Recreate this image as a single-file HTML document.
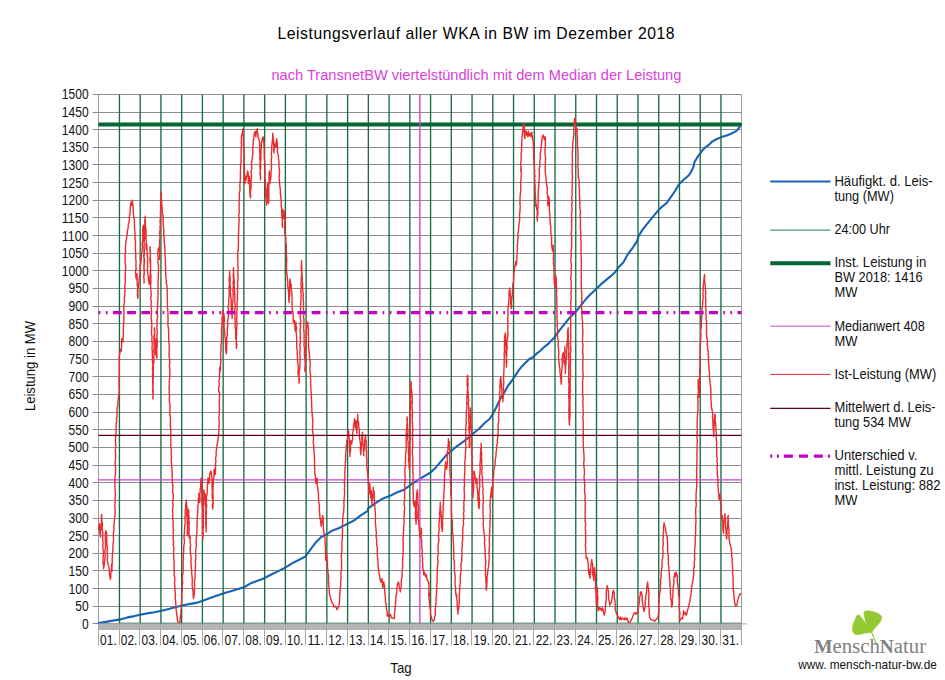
<!DOCTYPE html>
<html><head><meta charset="utf-8"><title>Leistungsverlauf aller WKA in BW im Dezember 2018</title>
<style>html,body{margin:0;padding:0;background:#fff;}svg{display:block;}</style></head>
<body>
<svg width="945" height="680" viewBox="0 0 945 680">
<rect x="0" y="0" width="945" height="680" fill="#ffffff"/>
<text x="476" y="38.6" text-anchor="middle" font-family="Liberation Sans, sans-serif" font-size="15.7" fill="#000" textLength="397" lengthAdjust="spacing">Leistungsverlauf aller WKA in BW im Dezember 2018</text>
<text x="476.4" y="79.9" text-anchor="middle" font-family="Liberation Sans, sans-serif" font-size="15.1" fill="#d93fd9" textLength="410" lengthAdjust="spacingAndGlyphs">nach TransnetBW viertelstündlich mit dem Median der Leistung</text>
<path d="M92.5 623.50H741.4 M92.5 606.50H741.4 M92.5 588.50H741.4 M92.5 570.50H741.4 M92.5 553.50H741.4 M92.5 535.50H741.4 M92.5 518.50H741.4 M92.5 500.50H741.4 M92.5 482.50H741.4 M92.5 465.50H741.4 M92.5 447.50H741.4 M92.5 429.50H741.4 M92.5 412.50H741.4 M92.5 394.50H741.4 M92.5 376.50H741.4 M92.5 359.50H741.4 M92.5 341.50H741.4 M92.5 323.50H741.4 M92.5 306.50H741.4 M92.5 288.50H741.4 M92.5 270.50H741.4 M92.5 253.50H741.4 M92.5 235.50H741.4 M92.5 217.50H741.4 M92.5 200.50H741.4 M92.5 182.50H741.4 M92.5 164.50H741.4 M92.5 147.50H741.4 M92.5 129.50H741.4 M92.5 112.50H741.4 M92.5 94.50H741.4" stroke="#8c8c8c" stroke-width="1" fill="none"/>
<path d="M98.5 94.4V629.9 M741.5 94.4V629.9" stroke="#9c9c9c" stroke-width="1" fill="none"/>
<polyline id="blue" points="98.6,623.0 105.8,621.9 113.0,620.6 120.2,619.4 127.4,617.4 134.6,616.1 140.0,614.7 147.2,613.4 154.4,612.2 161.6,610.7 168.8,608.9 176.0,607.1 183.1,605.3 190.3,603.9 197.5,602.6 202.9,600.8 210.1,598.1 217.3,595.4 224.5,593.1 231.7,591.0 238.9,588.8 244.3,587.0 251.5,582.9 256.9,581.1 265.0,578.0 265.4,577.5 270.8,574.8 276.2,572.1 285.2,567.6 292.4,563.1 299.6,559.5 305.0,556.8 310.4,549.6 315.8,542.4 321.2,537.0 326.6,534.3 332.0,530.7 339.2,528.0 346.3,524.4 353.5,520.8 360.7,515.4 367.9,510.9 367.9,508.7 375.1,503.3 382.3,498.8 389.5,496.1 396.7,492.5 403.9,489.8 411.1,484.4 418.3,479.9 425.5,475.4 430.4,472.8 435.8,467.4 441.2,461.1 446.6,454.8 452.0,450.3 457.4,445.8 462.8,442.2 468.2,437.7 473.6,433.2 479.0,428.7 484.4,423.3 489.8,418.8 493.4,413.0 497.0,405.8 500.6,398.1 504.2,392.7 507.8,386.0 511.3,381.5 514.9,376.1 518.5,370.7 522.1,366.2 525.7,362.6 529.3,359.0 532.9,357.2 536.5,353.7 540.1,351.0 543.7,347.4 547.3,344.7 550.9,341.1 554.5,337.5 558.1,332.1 561.7,327.6 565.3,323.1 568.9,318.6 572.5,315.0 576.1,311.4 579.7,306.9 583.3,302.4 586.9,297.9 590.5,294.3 595.4,289.8 600.8,284.4 606.2,279.9 611.6,275.4 615.2,272.0 618.8,266.9 623.3,262.4 627.8,254.3 633.2,247.1 636.8,241.7 638.6,236.3 642.2,230.1 645.8,225.6 649.4,221.1 653.9,215.7 658.4,210.3 662.0,206.7 666.5,203.1 671.0,196.8 675.4,190.5 679.0,184.2 683.5,179.7 688.9,175.2 690.7,172.5 693.4,167.1 694.3,162.6 697.9,156.3 701.5,151.8 701.5,151.2 705.1,147.6 708.7,144.9 711.4,142.2 715.9,139.5 721.3,137.1 726.7,135.5 732.1,133.2 735.7,131.4 738.4,128.7 740.2,126.0 740.8,124.2" fill="none" stroke="#1862b8" stroke-width="2.1" stroke-linejoin="round" stroke-linecap="round"/>
<path d="M119.44 623.9V94.4 M140.18 623.9V94.4 M160.93 623.9V94.4 M181.67 623.9V94.4 M202.41 623.9V94.4 M223.15 623.9V94.4 M243.89 623.9V94.4 M264.64 623.9V94.4 M285.38 623.9V94.4 M306.12 623.9V94.4 M326.86 623.9V94.4 M347.60 623.9V94.4 M368.35 623.9V94.4 M389.09 623.9V94.4 M409.83 623.9V94.4 M430.57 623.9V94.4 M451.31 623.9V94.4 M472.05 623.9V94.4 M492.80 623.9V94.4 M513.54 623.9V94.4 M534.28 623.9V94.4 M555.02 623.9V94.4 M575.76 623.9V94.4 M596.51 623.9V94.4 M617.25 623.9V94.4 M637.99 623.9V94.4 M658.73 623.9V94.4 M679.47 623.9V94.4 M700.22 623.9V94.4 M720.96 623.9V94.4 " stroke="#176e45" stroke-width="1.35" fill="none"/>
<path d="M119.14 623.1H741.4" stroke="#1e7d55" stroke-width="0.8" fill="none"/>
<path d="M741.4 623.9H746.9" stroke="#a8a8a8" stroke-width="1" fill="none"/>
<path d="M98.4 124.45H739.9" stroke="#006633" stroke-width="3.9" fill="none"/>
<circle cx="739.9" cy="124.45" r="1.95" fill="#006633"/>
<path d="M98.4 479.88H741.4 M419.90 623.9V94.4" stroke="#d044d8" stroke-width="1.4" fill="none"/>
<polyline id="red" points="98.6,529.8 98.78,527.21 99.31,525.0 99.5,523.5 99.71,526.01 99.55,528.91 99.72,531.51 99.92,533.73 100.4,537.0 100.51,534.65 100.46,530.99 100.98,529.19 101.1,525.61 101.55,522.3 101.63,519.83 101.29,516.78 101.7,514.5 101.72,517.79 101.78,520.31 102.25,522.87 102.33,525.29 102.14,528.34 102.6,531.6 102.8,534.34 102.61,537.4 102.77,539.84 103.08,543.23 102.77,545.9 103.03,549.16 103.25,551.17 103.49,553.77 103.17,557.51 103.05,559.97 103.04,563.06 103.62,565.76 103.5,568.5 104.11,565.76 104.34,563.68 104.61,561.01 104.9,558.6 105.23,556.43 105.06,553.25 104.86,550.51 105.36,548.13 105.58,544.35 105.36,542.1 105.2,539.02 105.39,535.74 105.4,533.87 105.8,530.7 106.7,533.4 106.53,535.93 106.8,539.68 106.68,541.97 107.09,545.46 107.37,548.31 107.08,550.56 107.23,554.1 107.74,555.95 107.28,558.94 107.6,562.2 108.11,564.88 109.0,567.6 109.39,570.19 109.3,573.34 109.88,576.47 110.3,579.3 110.83,577.02 110.74,574.36 111.07,571.03 111.45,569.49 111.65,566.97 111.6,564.0 111.69,566.26 111.66,568.99 112.1,571.2 111.89,567.79 112.1,565.13 112.29,562.17 112.15,559.51 112.32,557.01 112.37,554.92 112.88,551.11 112.73,548.59 113.0,546.0 113.06,542.67 113.56,541.09 113.44,537.58 113.33,534.24 113.67,531.67 114.16,528.73 113.76,527.03 114.26,523.11 114.4,520.8 114.61,517.44 114.77,516.07 115.18,512.97 115.1,510.0 114.93,507.08 114.87,504.91 115.12,502.18 114.98,498.67 115.32,497.0 115.35,494.01 115.32,491.18 114.91,488.13 115.0,484.71 114.77,482.33 115.1,479.9 114.97,477.18 115.5,473.84 115.53,471.6 115.58,467.74 115.1,464.55 115.13,461.53 115.47,459.51 115.66,455.92 115.57,453.38 115.21,450.19 115.83,447.37 115.76,443.95 115.39,441.39 115.54,438.41 115.7,435.0 116.18,432.15 115.93,430.23 116.31,426.44 116.04,423.71 116.73,421.93 116.35,419.26 117.09,416.32 116.9,413.4 117.02,410.95 117.08,407.68 117.89,406.05 117.8,403.93 118.0,400.8 118.3,398.62 118.7,395.4 119.23,392.3 119.3,390.0 119.13,386.97 119.12,384.65 119.13,381.68 119.04,379.63 119.2,376.26 119.36,374.15 119.24,371.43 119.3,368.15 119.32,364.7 119.26,362.19 119.3,359.9 119.18,357.64 119.52,354.51 120.13,351.95 120.2,349.2 121.4,351.0 121.4,348.51 121.68,346.36 121.48,343.52 121.7,340.61 122.0,338.4 122.64,340.21 122.9,342.0 123.03,339.66 123.37,336.52 123.25,333.91 123.27,331.47 123.32,328.55 123.42,326.42 123.67,323.63 123.93,320.06 123.75,318.32 123.8,315.0 124.15,311.79 123.76,309.52 123.84,306.54 123.95,304.44 124.56,302.06 124.23,299.1 124.7,295.6 124.7,293.4 125.08,291.13 124.73,288.18 124.97,284.61 125.49,282.17 125.03,278.68 125.39,275.62 125.27,272.67 125.6,270.0 125.66,266.53 125.44,264.32 124.96,261.36 125.29,258.82 125.1,256.0 124.96,254.15 125.64,251.59 125.32,248.07 125.44,246.26 125.77,242.81 126.1,240.8 126.45,238.58 127.12,234.86 127.3,232.4 127.48,230.44 128.2,227.58 128.29,224.13 129.0,222.2 129.43,219.15 129.3,216.91 129.99,213.77 130.2,210.4 130.24,208.07 130.56,205.24 131.2,201.9 131.52,203.37 131.9,205.3 132.24,203.35 132.5,200.2 132.57,202.51 132.99,205.5 133.2,208.7 133.15,210.75 133.34,213.33 133.74,216.0 134.1,218.8 134.44,221.23 134.42,223.79 134.47,226.29 134.57,229.0 134.9,232.4 135.16,235.36 134.88,238.14 135.5,240.51 135.52,243.85 135.4,247.3 135.43,249.72 135.6,252.6 135.85,256.11 135.72,258.73 136.09,261.29 136.0,263.72 135.87,266.25 136.3,269.6 135.5,270.0 135.42,272.59 135.78,274.03 135.88,277.23 136.4,279.0 137.01,276.54 137.1,273.6 137.03,275.99 137.11,279.05 137.09,281.79 137.25,285.27 137.82,287.44 137.39,290.79 137.51,292.69 137.37,295.48 137.8,298.4 137.97,295.77 137.96,293.14 138.0,290.17 138.25,287.73 138.4,284.56 138.9,282.6 138.98,279.71 139.4,277.6 139.74,275.26 139.93,273.05 140.0,270.0 140.17,267.01 140.5,264.5 141.11,261.18 141.19,259.03 141.3,256.0 141.28,254.24 142.17,251.71 142.2,249.3 142.45,246.99 142.12,243.83 142.47,241.52 142.76,238.76 142.7,236.1 142.85,233.07 142.62,229.39 142.9,227.3 143.5,225.2 143.34,227.63 143.42,230.92 143.84,233.25 143.9,235.7 143.99,238.92 143.91,240.93 144.13,244.94 143.93,247.6 144.04,249.9 144.1,253.13 143.65,256.11 144.11,258.99 144.12,263.03 143.96,265.16 143.95,268.54 144.16,271.41 144.08,273.62 143.74,276.83 144.16,279.86 144.0,283.1 144.07,279.45 143.74,276.85 144.2,274.48 144.22,270.96 144.14,268.24 144.13,264.79 144.45,261.94 144.53,260.01 143.89,256.38 144.47,254.13 144.24,250.19 144.1,248.17 144.12,244.7 144.1,241.66 144.69,238.15 144.4,235.7 144.7,233.19 144.82,230.93 144.44,228.68 144.7,225.6 144.82,222.61 144.6,220.94 145.04,218.35 145.2,216.3 145.07,218.83 145.32,222.28 145.23,224.9 145.7,227.3 146.0,229.52 146.12,233.1 146.17,235.26 145.86,238.15 146.36,241.17 145.98,243.7 145.98,245.92 146.2,249.3 146.27,247.22 146.9,244.2 146.87,247.63 146.96,249.51 147.26,252.22 147.28,256.11 147.75,258.72 147.6,261.1 147.56,264.65 147.64,267.1 147.2,270.0 147.65,271.62 147.96,274.43 148.28,276.95 148.4,279.0 148.7,281.07 149.3,284.4 149.87,281.18 149.83,278.78 149.98,276.63 150.4,273.6 150.7,270.28 150.44,267.34 150.34,264.49 150.03,261.17 150.03,259.22 150.2,255.27 150.45,253.37 150.1,249.18 150.1,246.7 149.97,249.09 150.16,252.06 150.17,255.26 150.48,259.11 150.69,261.41 150.6,264.5 150.56,267.47 150.56,270.15 150.37,273.0 151.03,275.73 150.73,279.37 151.0,281.73 150.61,284.71 150.8,288.0 150.78,290.62 151.22,293.89 151.21,295.43 150.67,299.09 151.33,301.46 151.16,303.5 151.07,307.5 151.43,310.1 151.58,311.95 151.3,315.0 151.11,317.3 151.48,320.82 151.85,323.66 151.73,326.5 151.68,328.98 151.47,332.09 151.69,335.06 152.06,336.98 151.78,339.69 152.21,343.1 152.2,345.6 151.97,347.93 152.31,351.59 152.26,354.02 152.45,356.66 152.29,360.23 152.79,363.42 152.79,366.12 152.38,368.74 152.93,372.31 152.52,374.29 152.7,377.9 152.72,380.78 152.69,382.84 152.89,386.41 152.61,387.8 152.71,390.98 152.98,393.3 153.08,396.7 152.9,399.0 152.95,395.95 153.33,393.46 153.27,390.71 152.91,388.81 153.01,386.45 153.2,382.74 153.06,380.42 153.3,377.9 153.48,375.83 153.18,372.35 153.29,370.46 153.3,366.47 153.3,364.25 153.95,362.24 153.9,359.7 153.8,356.3 154.16,353.19 153.7,351.17 154.15,347.03 154.16,344.65 154.01,341.71 153.93,338.38 154.07,336.0 154.6,332.81 154.66,330.06 154.4,327.6 154.4,330.93 154.83,333.27 154.38,336.2 154.71,339.71 154.9,342.0 154.83,344.33 155.46,346.38 155.26,350.0 155.65,351.44 155.6,354.6 155.39,351.29 156.13,348.86 156.12,347.06 155.95,343.48 156.5,341.26 156.3,338.4 156.19,341.52 156.29,343.71 156.12,347.2 156.82,349.84 156.9,351.81 156.46,355.25 156.7,358.1 157.06,355.89 156.7,352.07 156.78,349.57 157.17,346.29 157.12,344.23 157.18,341.43 157.07,337.97 156.91,335.17 157.27,331.94 156.9,330.04 156.98,326.23 157.2,324.0 156.94,321.3 157.2,319.13 157.65,316.38 157.28,312.34 157.23,310.15 157.72,307.31 157.44,304.5 157.78,302.09 157.93,299.56 157.93,295.78 158.12,293.25 157.99,290.59 158.0,288.0 158.24,285.01 157.97,282.5 157.97,280.82 158.34,277.47 158.28,275.83 158.43,272.2 158.5,270.0 158.52,267.81 158.44,264.64 157.9,262.8 157.94,260.55 158.26,257.98 157.76,254.41 157.87,251.57 158.2,249.3 158.9,247.6 159.41,250.67 159.55,253.32 159.68,256.38 159.6,259.4 159.47,256.83 159.99,252.92 159.78,250.68 159.55,247.37 159.54,244.17 159.65,241.76 159.97,238.25 159.9,235.7 159.64,232.65 160.18,229.64 160.0,226.85 160.42,224.52 159.98,221.09 160.29,218.9 160.54,215.45 160.29,213.48 160.6,210.4 160.61,207.44 160.61,205.72 160.68,202.52 160.79,199.65 161.21,197.81 160.93,194.03 161.1,191.8 161.43,194.19 161.09,197.96 161.6,200.2 161.72,203.2 161.88,205.84 162.1,207.38 162.3,210.4 162.31,212.97 163.0,215.4 163.24,218.69 162.99,221.01 163.33,223.57 163.31,225.98 163.7,229.0 163.83,232.3 163.67,234.39 164.27,237.75 163.97,239.28 164.3,242.5 164.75,245.87 164.57,247.27 165.02,250.44 165.14,253.47 165.0,256.0 165.36,258.4 165.48,261.36 165.35,265.11 165.78,267.06 165.49,270.23 165.84,273.09 165.7,275.77 166.1,279.0 166.48,281.81 166.23,283.59 166.96,285.1 167.0,288.0 167.33,290.16 167.25,293.47 167.36,295.83 167.3,298.92 167.4,301.72 167.5,304.11 167.3,307.07 167.71,309.23 167.99,312.69 167.9,315.0 167.96,317.25 168.06,319.85 167.91,323.0 167.97,325.72 168.36,327.86 168.54,330.62 168.69,334.29 168.63,335.98 168.71,339.13 168.8,342.0 169.22,344.48 169.25,348.67 169.26,351.41 168.99,354.63 169.29,357.58 169.69,359.46 169.7,363.53 169.3,365.7 169.7,368.9 169.83,371.06 169.88,373.86 169.77,376.31 169.5,380.04 169.25,381.76 169.4,384.47 169.03,386.92 169.3,390.0 169.14,393.42 169.59,396.18 169.31,398.84 169.36,401.29 169.8,403.87 170.05,406.95 169.92,410.22 169.67,413.19 170.12,415.16 170.32,417.8 170.54,421.05 170.18,424.12 170.32,426.11 170.61,428.74 170.74,431.84 170.6,435.0 170.81,438.45 170.88,440.77 170.79,442.61 170.7,445.59 171.22,448.75 171.26,452.17 171.1,454.0 171.57,456.49 171.22,459.72 171.4,462.49 171.59,465.58 171.95,467.82 172.0,471.0 172.23,473.95 172.03,477.59 172.25,479.48 172.29,483.15 172.98,486.34 172.8,488.6 172.67,492.13 173.2,494.7 173.3,497.9 173.1,500.07 172.7,502.4 173.06,505.52 172.64,508.55 172.56,510.82 172.87,513.2 172.68,516.75 172.71,519.22 173.42,521.44 172.96,524.88 173.23,527.72 173.5,529.86 173.21,532.83 173.4,535.9 173.14,539.24 173.71,541.78 173.23,544.76 173.8,547.02 173.86,549.79 173.56,552.1 173.62,554.8 173.75,558.58 174.06,561.51 174.13,563.49 174.08,566.52 174.1,569.4 174.41,572.23 174.16,575.2 174.76,577.4 174.82,579.92 174.49,583.03 174.95,586.82 175.06,588.76 175.0,591.8 175.45,594.53 175.18,598.3 175.64,600.97 175.85,604.34 175.9,607.11 176.1,609.6 176.56,612.63 176.71,614.96 177.12,616.91 177.4,619.7 177.9,621.57 178.8,623.1 180.1,621.9 180.1,619.88 180.45,616.04 181.0,614.1 180.87,611.72 181.19,607.63 181.12,604.51 181.73,602.35 181.89,599.51 181.9,596.2 181.71,593.54 182.03,591.07 182.46,588.39 182.05,585.56 182.75,582.88 182.3,579.06 182.42,576.04 182.8,573.9 183.16,571.54 183.12,568.76 183.23,565.2 182.97,562.14 183.54,559.49 183.35,556.99 183.25,553.96 183.7,551.5 183.66,549.01 183.83,545.67 184.36,543.14 184.4,540.52 183.93,537.44 184.33,535.16 184.38,532.27 184.6,529.2 184.76,525.93 185.11,522.88 185.21,520.12 184.77,517.3 185.43,515.51 185.02,511.96 185.5,509.1 185.72,507.27 185.73,504.59 186.07,502.81 186.4,500.1 186.38,502.97 186.55,504.2 186.99,506.85 187.0,509.1 186.78,512.27 186.82,515.46 187.3,518.44 187.31,520.81 187.21,523.84 187.61,526.39 187.66,529.28 187.24,532.59 187.5,535.9 187.86,532.92 187.57,530.48 187.55,526.91 187.83,524.35 188.07,521.22 187.86,517.79 187.8,515.54 188.24,512.42 188.2,509.1 188.8,511.3 188.62,514.19 189.1,517.37 188.7,520.18 189.29,522.84 188.86,525.91 189.28,529.65 188.95,531.66 189.07,534.88 189.3,538.1 190.0,535.9 190.12,538.41 190.08,541.43 190.63,545.17 190.12,548.48 190.22,550.65 190.6,553.8 191.11,556.99 191.11,559.26 190.91,562.32 191.3,564.9 191.2,567.29 191.57,569.85 191.75,573.71 192.0,576.1 192.26,578.78 192.33,581.41 192.11,584.29 192.41,587.16 192.6,589.5 193.11,591.65 193.1,594.35 193.22,595.87 193.5,598.5 193.88,596.78 194.14,594.28 194.42,592.0 194.4,589.5 194.63,586.56 194.53,583.94 194.5,580.77 195.11,578.31 195.13,574.79 195.12,572.21 195.3,569.4 195.49,566.3 195.62,564.05 195.38,560.68 195.89,557.33 195.79,555.18 195.58,551.59 195.76,548.95 196.41,545.6 196.2,542.6 196.07,539.72 196.53,536.94 196.66,533.84 197.03,530.7 196.89,528.31 197.1,524.7 197.05,522.36 197.32,519.87 197.29,517.58 197.6,513.68 197.69,511.56 198.0,509.1 197.81,506.37 198.24,504.14 198.35,500.92 198.41,498.97 199.06,496.05 198.9,493.4 198.88,496.07 199.17,497.5 199.17,500.54 199.6,502.4 199.97,499.79 199.88,496.89 199.86,494.65 200.2,491.2 200.27,488.59 200.77,486.04 200.7,482.51 200.9,480.0 201.3,478.0 201.45,480.31 201.77,483.46 201.9,486.17 201.68,488.99 201.83,491.73 202.0,495.0 201.71,498.24 201.97,500.51 202.04,503.77 202.19,506.93 202.41,509.47 202.66,513.1 202.11,515.99 202.76,518.86 202.29,521.86 202.69,523.65 202.32,527.9 202.83,529.85 202.5,532.63 202.65,536.45 202.9,539.0 202.85,535.68 203.3,533.74 202.84,531.05 203.21,528.06 203.31,525.38 203.45,522.47 203.1,519.44 203.39,516.67 203.38,514.04 203.52,510.34 203.36,507.33 203.6,505.0 203.66,501.88 203.71,499.5 203.79,497.5 203.89,495.51 203.59,492.98 204.0,490.0 204.13,492.59 204.42,495.48 204.36,497.39 204.6,500.0 205.16,497.41 205.16,496.19 205.3,494.0 205.02,497.08 205.54,500.45 205.34,503.44 205.52,505.67 205.85,507.96 205.78,511.71 205.56,514.97 205.64,517.35 205.8,520.69 205.64,523.14 205.84,526.23 206.17,528.79 206.0,532.0 206.28,528.96 206.11,525.86 206.17,523.94 206.33,520.77 206.15,517.2 206.19,514.67 206.48,512.03 206.11,509.04 206.76,505.88 206.23,502.63 206.6,500.0 206.37,496.77 207.14,494.55 207.07,492.0 207.37,488.96 207.2,486.0 207.55,483.51 207.87,480.8 208.0,478.0 208.58,480.35 208.9,483.5 209.32,480.74 209.68,477.54 209.58,474.75 210.1,472.7 211.0,471.0 211.44,473.83 211.61,475.32 211.98,478.15 212.0,480.0 212.12,482.56 212.02,485.69 212.11,488.6 212.42,492.21 212.09,494.59 212.16,496.87 212.78,500.41 212.93,503.13 212.38,505.94 212.8,509.0 212.93,506.78 213.27,503.3 212.94,499.94 213.17,497.26 212.89,494.16 212.85,492.26 213.0,489.82 213.05,486.85 213.4,483.5 213.32,479.92 213.91,477.34 214.1,474.36 213.81,472.28 214.3,469.0 214.9,472.25 215.2,474.5 215.47,471.23 215.52,469.42 215.51,467.04 215.48,464.4 215.91,460.38 215.54,458.59 216.21,455.1 216.1,453.0 216.27,451.07 216.47,449.01 216.99,445.63 217.3,444.0 217.58,441.85 218.01,439.75 218.18,437.67 218.8,435.0 218.75,432.34 218.98,429.15 218.86,426.8 219.3,423.93 219.08,420.38 218.77,418.46 219.27,415.39 219.06,412.21 219.55,409.66 219.34,406.07 219.26,404.01 219.27,400.86 219.48,398.29 219.67,394.56 219.5,392.0 218.8,392.0 218.55,388.9 218.95,386.59 219.32,384.24 218.88,381.4 219.52,378.68 219.45,375.08 219.75,373.06 219.73,370.45 219.7,367.1 219.94,368.32 220.4,370.7 220.51,368.3 220.33,365.42 220.92,361.88 220.76,359.69 220.73,356.22 220.66,354.17 220.9,351.0 221.21,348.24 220.83,346.03 221.42,342.53 221.4,340.76 221.72,337.53 221.54,334.93 221.45,331.67 221.56,329.68 221.79,326.79 222.0,324.0 222.07,321.32 222.03,317.96 222.77,315.72 222.28,313.39 222.7,310.5 223.05,312.94 223.07,316.13 223.16,318.6 223.3,322.2 223.1,320.64 223.81,317.68 223.72,315.12 223.8,313.2 224.1,315.67 224.31,318.72 224.32,321.56 224.03,322.84 224.09,325.61 224.11,328.0 224.5,331.2 224.77,334.42 224.92,337.23 225.46,338.69 225.4,342.0 225.69,344.78 225.58,348.49 225.91,350.87 226.3,353.7 226.5,351.64 226.62,348.15 226.56,345.12 227.03,343.59 226.61,339.55 226.73,337.29 227.28,335.37 227.34,331.47 227.2,329.4 227.63,326.99 227.75,324.68 227.56,320.8 228.1,318.6 228.39,316.52 228.45,312.92 228.5,310.86 228.27,307.55 228.49,304.57 228.76,301.94 228.7,299.2 229.0,297.0 229.19,293.52 229.29,290.97 228.88,289.2 229.07,286.41 229.59,283.54 229.15,280.13 229.18,278.0 229.77,274.78 229.6,271.8 229.71,274.46 230.11,277.53 230.11,279.94 229.97,282.7 230.3,286.2 230.6,288.97 230.35,292.12 230.59,294.18 230.66,296.68 231.29,299.47 231.2,302.4 231.12,305.09 231.37,308.36 231.38,311.17 231.49,313.75 232.07,315.5 232.1,318.6 232.18,315.52 232.13,312.62 232.3,310.94 232.85,308.07 232.32,304.4 232.98,301.29 232.96,298.84 233.24,295.67 233.21,293.34 232.85,290.08 233.2,288.0 233.48,285.47 233.07,282.77 233.62,279.89 233.42,277.21 233.19,275.52 233.61,272.15 233.5,270.0 233.5,267.8 233.33,270.11 233.83,273.57 233.73,276.05 234.09,279.63 234.36,282.34 234.06,284.51 234.4,288.0 234.63,290.64 234.69,292.92 234.83,296.08 234.92,299.59 234.74,301.17 235.1,304.58 235.15,307.06 234.73,310.62 234.93,312.45 235.0,315.83 234.81,318.49 235.19,321.25 235.3,324.0 235.16,327.0 235.77,329.91 235.54,332.4 235.71,335.15 235.6,338.02 236.35,340.19 236.16,342.94 236.3,344.93 236.4,348.3 236.77,345.09 236.27,342.1 236.37,340.28 236.26,336.46 236.77,333.77 236.34,331.52 236.78,328.59 236.92,325.18 237.08,323.22 236.55,319.57 236.91,317.28 236.81,313.93 236.94,311.13 237.12,309.33 237.1,306.0 236.92,303.33 237.41,299.99 237.54,298.3 237.3,294.81 237.68,292.19 237.44,290.0 237.78,286.39 237.47,283.62 237.68,281.75 238.01,278.89 238.08,276.03 237.62,272.79 238.0,270.0 238.26,268.19 237.7,265.05 237.91,262.55 237.78,259.72 237.7,257.9 237.74,255.21 237.54,252.0 238.29,250.19 238.36,247.29 238.35,244.94 238.49,241.05 238.41,238.67 238.4,236.3 238.62,233.12 238.63,231.17 238.78,227.37 238.81,224.77 238.9,222.0 239.27,219.02 238.87,216.85 238.8,214.1 239.44,211.31 239.02,208.56 239.26,205.44 239.03,202.74 239.2,200.45 239.4,197.9 239.38,194.97 239.37,192.82 240.02,190.34 239.96,187.82 239.83,185.34 240.14,182.54 240.3,179.9 240.48,176.87 240.37,173.56 240.41,170.95 240.62,168.06 240.46,164.75 241.15,161.6 241.04,158.97 240.95,156.67 241.2,153.0 241.13,150.81 241.1,147.25 241.67,145.2 241.18,142.56 241.52,140.47 241.36,137.19 241.7,135.0 242.47,133.08 242.6,130.5 243.0,128.7 242.84,131.02 243.06,134.05 243.33,136.84 243.56,138.92 243.58,141.79 243.5,144.0 243.77,146.54 243.87,149.43 244.05,151.19 244.1,153.59 244.11,156.98 244.01,160.08 244.1,162.0 244.24,164.57 244.47,167.9 244.44,169.89 244.42,172.69 244.69,175.15 244.55,178.2 244.63,180.56 244.8,183.5 245.17,181.59 245.13,178.62 245.3,176.3 245.53,177.83 246.2,179.9 246.3,178.21 246.9,176.3 247.36,173.07 247.7,171.0 248.13,173.25 248.22,176.47 248.44,178.09 248.21,181.57 248.4,183.5 248.36,180.47 249.05,178.7 249.3,176.3 249.69,179.56 249.53,182.76 249.61,184.96 249.83,187.67 249.8,190.7 249.93,193.23 250.16,196.13 250.5,197.9 250.71,195.36 250.39,192.58 250.69,190.27 250.89,188.15 251.25,185.02 250.97,182.65 251.1,179.9 251.53,176.7 251.29,174.38 251.12,170.7 251.77,168.42 251.53,164.44 251.6,162.0 252.23,159.57 252.3,156.6 252.7,154.77 252.93,151.45 252.6,148.75 253.03,146.53 253.2,144.0 253.21,141.31 253.74,139.64 253.77,137.94 254.1,135.0 254.65,132.56 255.0,131.4 255.39,134.5 255.9,136.8 256.06,134.37 256.5,131.4 257.4,128.7 257.22,131.13 257.97,134.22 257.9,136.8 258.8,138.6 259.37,140.88 259.7,144.0 259.76,147.07 259.65,150.19 259.9,153.67 259.99,155.84 259.73,158.48 260.23,161.4 259.83,164.48 260.18,168.39 260.3,171.35 259.98,173.23 260.53,176.66 260.4,179.9 260.62,176.71 260.3,173.6 260.32,171.5 260.72,167.73 260.7,164.8 260.49,162.51 260.92,159.62 260.89,156.16 261.0,153.0 260.95,149.66 261.55,148.1 261.25,145.46 261.5,142.2 262.07,140.13 262.2,138.6 263.1,136.8 263.47,139.84 263.7,142.23 264.0,144.0 263.91,146.42 264.32,148.75 264.12,152.24 264.33,154.7 264.25,156.4 264.42,158.99 264.6,162.0 265.05,164.69 264.88,167.43 264.97,170.79 265.0,173.32 264.92,177.37 265.3,179.9 265.3,182.11 265.28,184.74 265.42,186.96 265.81,189.96 265.56,193.05 265.61,195.01 266.0,197.9 266.47,199.78 266.43,203.17 266.7,205.1 267.01,201.92 266.8,200.01 266.91,197.64 266.9,194.93 267.2,191.22 267.27,188.38 267.54,185.87 267.5,183.5 267.92,186.14 267.69,188.18 268.0,190.66 268.32,193.05 268.2,196.1 268.38,198.56 268.37,201.28 268.7,203.3 268.68,200.58 268.87,197.16 268.81,193.91 268.73,192.05 268.89,188.85 268.81,185.77 269.05,182.75 269.07,179.2 269.14,176.49 269.07,174.24 269.4,171.0 269.37,173.36 269.93,176.38 270.03,179.01 269.62,180.69 270.0,183.5 269.97,181.35 270.71,178.49 270.9,176.3 270.94,173.66 271.24,170.23 271.44,167.51 271.39,164.41 271.4,162.0 271.23,160.01 271.76,157.15 271.38,153.64 271.56,151.29 271.76,148.98 271.68,146.31 272.1,144.0 272.35,140.85 272.64,138.7 272.7,135.56 272.7,133.2 272.88,135.71 273.04,137.0 273.61,140.34 273.6,142.2 273.58,144.26 274.1,147.75 273.66,149.94 274.1,153.0 274.0,151.16 274.25,149.08 274.8,145.67 274.8,144.0 275.39,145.65 275.7,147.6 276.1,145.81 276.0,142.53 276.69,140.74 276.6,138.6 277.13,141.57 277.22,144.46 277.36,146.63 277.5,149.4 277.41,151.93 277.9,153.92 278.47,155.63 278.4,158.4 278.81,160.46 278.99,164.23 278.91,166.56 279.3,169.2 279.65,172.24 279.38,174.55 279.07,177.55 279.4,180.6 279.57,182.58 279.73,184.89 280.1,187.8 280.44,190.74 280.32,192.84 280.71,195.82 280.9,198.6 281.38,200.64 281.11,203.64 281.17,205.44 281.6,207.6 281.61,210.87 281.89,213.62 281.75,216.32 282.18,218.86 282.43,222.21 282.1,224.28 282.5,227.4 282.47,224.42 282.34,221.95 282.5,219.97 282.75,216.57 282.73,214.5 282.83,211.51 283.0,209.4 282.88,210.97 283.69,214.25 283.23,216.45 283.7,218.4 284.3,216.09 283.96,213.58 284.5,211.2 284.5,213.59 284.62,216.17 284.92,219.89 284.76,223.12 284.82,224.99 284.58,227.67 284.8,231.0 284.82,234.03 285.5,236.3 285.94,238.71 285.68,241.89 286.34,245.0 286.3,247.1 286.13,250.38 286.65,253.2 286.36,255.3 286.77,258.37 286.6,261.5 286.51,264.4 286.51,267.63 286.6,270.0 286.59,271.61 287.0,274.68 287.35,277.04 287.3,279.0 287.8,282.14 287.74,284.04 287.72,286.28 288.24,288.49 288.4,291.6 288.71,293.83 288.71,297.66 288.64,299.06 289.1,302.4 289.16,299.04 289.46,295.85 289.64,294.12 289.7,290.6 289.45,288.0 289.71,284.74 289.69,281.84 289.9,279.0 290.19,281.71 290.53,283.03 290.28,285.67 290.6,288.0 290.99,285.99 291.3,284.4 291.17,286.52 291.35,289.74 291.89,293.07 291.91,295.86 292.06,298.07 292.04,299.98 292.04,303.45 292.0,306.0 292.21,308.8 292.7,311.4 293.22,314.07 293.2,316.52 293.19,320.04 293.5,322.2 294.5,320.4 294.37,322.66 295.03,325.73 294.81,328.72 295.3,331.2 295.39,329.06 295.59,326.74 295.87,324.3 296.0,322.2 295.83,324.58 296.47,327.92 296.03,331.19 296.23,332.95 296.52,336.0 296.59,339.25 296.7,342.0 296.65,344.96 296.71,347.74 297.18,349.99 297.2,352.84 297.4,356.3 297.5,359.69 297.72,362.36 298.0,364.4 298.3,368.13 298.1,370.7 298.0,373.68 298.38,375.28 298.96,378.35 299.01,380.27 299.0,383.3 299.31,379.76 299.04,377.27 299.0,374.66 299.25,371.32 299.71,368.57 299.95,365.92 300.05,362.91 299.9,359.9 300.24,357.42 299.76,354.25 299.92,351.29 300.2,348.38 299.86,344.75 300.33,342.56 300.37,338.3 300.33,335.38 300.33,333.37 300.07,330.55 300.51,326.62 300.22,323.89 300.71,321.09 300.25,317.31 300.29,315.4 300.39,312.06 300.51,309.26 300.7,306.0 300.67,302.73 301.07,300.52 300.99,298.12 301.23,294.24 300.86,291.67 301.02,289.91 301.29,285.97 300.91,284.29 301.31,280.93 301.22,277.83 301.53,275.39 301.61,272.92 301.4,270.0 301.15,267.41 301.3,265.85 301.61,262.31 301.6,260.6 301.47,263.03 301.78,265.97 301.82,268.28 301.65,271.23 301.98,273.07 302.17,277.05 302.3,279.0 302.11,281.08 302.68,283.82 302.53,286.71 302.65,289.38 302.96,292.5 303.42,293.78 303.2,297.0 303.31,300.15 303.6,302.92 303.5,305.5 303.38,307.77 303.75,311.37 303.92,313.87 303.55,316.75 303.92,319.17 303.92,321.71 303.93,324.56 303.65,327.23 303.91,330.91 304.1,333.0 304.16,335.78 304.06,338.57 304.2,341.4 304.03,345.4 304.41,347.77 304.56,350.54 304.35,353.18 304.51,356.49 304.88,359.79 305.1,362.47 305.16,365.78 304.64,368.18 305.0,371.6 305.16,369.34 305.1,366.1 305.25,363.29 305.1,359.81 305.78,356.57 305.43,353.28 305.7,351.0 305.55,347.98 306.02,345.21 305.89,342.48 306.12,340.71 306.24,337.08 306.39,335.45 306.38,331.51 306.4,329.4 306.85,327.53 306.76,324.09 307.1,322.2 307.9,322.2 307.78,325.08 308.36,328.05 308.5,330.28 308.18,333.86 308.5,336.21 308.63,338.94 308.6,342.0 308.47,344.74 308.64,347.9 309.02,350.57 309.39,353.1 309.5,356.3 309.59,358.32 310.02,361.79 310.18,363.78 310.03,367.41 309.94,369.23 309.93,372.0 310.47,374.63 310.4,377.9 310.72,380.21 310.63,382.86 310.74,385.38 310.87,387.34 310.9,390.0 311.21,392.54 311.33,396.13 311.51,398.37 311.65,402.19 311.6,404.4 311.72,406.34 311.92,409.52 311.79,410.46 312.2,413.4 312.28,416.14 312.59,418.25 312.84,420.58 312.78,422.91 312.7,426.0 312.51,428.37 312.67,431.76 313.16,434.19 313.57,437.33 313.4,440.4 313.27,442.47 313.81,446.03 313.52,447.3 314.07,450.12 314.0,453.0 314.48,455.88 314.38,458.54 314.63,461.58 314.44,465.08 314.7,467.4 314.66,470.69 314.86,473.54 315.4,476.3 315.56,479.21 315.56,481.19 316.1,483.5 316.49,481.39 317.0,478.1 317.46,480.53 317.11,482.25 317.28,484.76 317.6,487.1 317.71,489.08 318.38,492.1 318.5,494.3 318.48,497.24 318.55,498.9 318.63,501.56 319.0,503.3 319.39,505.21 319.44,508.22 319.4,510.0 319.47,512.01 319.84,515.05 319.84,517.01 320.3,519.0 320.67,521.33 320.96,524.34 321.2,526.2 321.45,524.04 322.1,520.8 322.25,518.49 322.6,515.4 323.03,517.21 323.2,520.59 322.98,521.48 323.3,524.4 323.25,527.31 323.41,529.48 323.73,531.48 324.2,533.4 324.22,535.34 324.93,537.63 325.1,540.6 325.09,544.01 325.45,546.79 325.74,548.43 325.31,552.32 325.73,554.1 325.7,557.2 325.8,560.4 326.02,557.45 326.0,556.29 326.6,553.2 326.7,555.98 326.78,557.68 327.02,559.85 327.5,562.2 327.43,565.16 327.55,567.93 327.95,569.76 328.0,572.99 328.54,575.49 328.4,578.4 328.38,581.57 329.03,583.76 328.78,585.51 328.96,587.88 329.3,591.0 329.38,593.38 330.04,595.81 330.5,598.1 330.95,599.21 331.6,601.7 332.9,603.5 333.63,605.51 334.1,607.1 335.6,606.2 336.33,608.07 337.0,609.8 338.3,607.1 338.88,605.98 339.2,603.5 339.64,601.3 339.49,598.25 339.68,596.66 339.84,593.34 340.1,591.0 340.22,587.98 340.81,585.27 340.72,584.04 340.65,581.08 341.0,578.4 341.0,575.09 340.95,571.97 341.49,569.96 341.61,565.99 341.55,563.43 341.59,560.8 341.44,558.44 341.31,555.18 341.98,551.91 341.88,549.64 341.9,546.0 341.8,543.48 342.25,540.43 342.32,537.75 342.28,535.36 342.47,532.25 342.53,529.86 342.34,527.26 342.46,524.97 342.69,522.01 342.8,519.0 343.04,516.72 343.05,514.0 343.77,512.29 343.7,510.0 343.82,507.62 344.12,504.79 343.77,503.19 344.07,500.52 344.2,497.9 344.51,495.46 344.61,491.28 344.35,489.4 344.73,485.42 344.35,482.61 344.39,479.77 344.96,477.01 344.79,473.41 344.9,471.0 344.96,469.12 345.29,465.79 345.27,463.7 345.6,460.22 345.67,457.96 345.69,455.2 345.8,453.0 345.93,450.53 346.17,447.82 346.27,446.35 346.7,444.0 346.69,441.15 347.45,438.88 347.6,436.8 347.78,434.34 348.43,432.03 348.5,430.5 348.77,433.48 348.64,435.34 349.23,438.09 349.2,440.4 349.23,442.46 349.39,445.61 349.7,448.21 349.6,451.41 350.0,453.69 349.9,456.6 349.97,454.01 350.5,450.77 350.68,448.8 350.41,446.03 350.53,442.5 350.8,440.4 351.43,442.03 351.7,444.0 352.02,441.6 352.58,439.56 352.6,436.8 352.49,434.23 353.02,431.35 353.51,428.58 353.5,426.0 353.85,424.15 354.19,421.19 354.6,418.8 354.78,421.5 355.07,423.64 355.06,424.91 355.3,427.8 355.73,425.48 356.09,423.38 356.2,420.6 356.05,422.73 356.14,426.08 356.28,427.58 356.86,430.77 356.8,433.2 356.62,430.75 357.2,427.78 356.87,425.37 357.26,422.52 357.79,420.14 357.83,416.5 357.7,414.3 357.88,417.03 357.95,420.38 358.6,422.4 358.62,424.77 358.82,427.46 359.38,430.58 359.3,433.2 359.54,435.49 359.45,437.73 360.0,440.4 360.4,443.7 360.53,445.82 360.21,448.41 360.59,451.74 360.7,454.8 360.9,452.08 361.21,449.21 361.59,446.28 361.6,444.0 362.09,441.15 361.69,437.89 362.22,435.1 362.4,432.3 362.62,434.98 362.59,438.56 362.78,441.37 363.1,444.0 363.49,447.05 363.42,450.46 363.59,453.3 363.8,455.7 363.64,453.06 364.2,449.97 364.5,447.45 364.47,445.05 364.85,443.04 364.7,440.4 365.26,437.7 365.4,435.0 365.7,437.49 365.61,439.1 366.16,441.25 366.1,444.0 366.51,446.16 366.05,448.58 366.64,452.35 366.5,454.51 366.5,457.43 366.92,458.95 366.9,462.0 366.76,464.97 366.93,467.87 367.28,469.73 367.6,472.8 367.83,475.22 367.99,477.67 368.41,480.58 368.3,483.5 368.71,485.71 368.86,489.57 368.75,490.95 369.0,494.3 369.09,491.8 369.16,488.96 369.24,486.15 369.7,483.5 370.02,486.28 370.15,488.72 370.41,491.61 370.64,495.71 370.5,497.9 371.04,495.54 370.82,492.89 371.2,490.7 371.52,493.58 371.78,495.89 371.61,499.85 371.83,502.28 371.9,505.1 371.85,502.2 372.21,500.85 372.6,497.9 373.02,494.82 373.25,491.85 373.19,490.45 373.3,487.1 373.49,490.12 374.01,491.27 374.2,494.3 374.23,496.93 374.32,500.04 374.43,502.8 374.8,505.1 374.81,506.95 375.1,510.0 375.27,512.01 375.39,515.55 375.55,517.66 375.29,520.3 375.46,523.06 375.61,525.54 376.0,528.0 376.03,530.4 376.37,532.67 376.15,536.33 376.4,538.76 376.9,540.83 376.53,542.86 376.9,546.0 377.35,547.98 377.26,551.09 377.17,553.51 377.38,556.13 377.8,558.6 377.98,560.93 377.95,563.51 378.13,565.64 378.34,569.2 378.7,571.2 379.25,574.45 379.8,576.6 380.01,579.92 380.9,582.0 381.44,580.61 382.0,578.4 382.27,580.91 382.26,583.25 382.43,584.82 382.9,587.4 383.02,584.55 383.8,582.0 384.05,584.11 384.54,586.22 384.5,589.2 384.78,591.5 385.02,594.95 385.32,596.61 385.4,599.9 385.52,602.44 386.34,604.06 386.3,607.1 386.61,609.62 386.97,611.38 387.19,613.8 387.2,616.1 388.1,614.3 389.2,617.0 390.2,614.3 391.04,615.42 391.3,617.9 392.8,617.9 394.0,618.8 394.61,615.98 394.53,612.82 394.9,610.7 394.95,608.33 395.48,604.81 395.47,602.1 395.8,599.9 395.81,596.83 396.13,595.22 396.82,592.28 396.7,589.2 397.14,586.5 397.6,583.8 398.5,582.0 399.15,585.27 399.4,587.4 400.03,589.84 400.3,591.9 400.39,589.98 401.14,588.1 401.2,585.6 401.09,583.02 401.45,579.37 402.07,577.2 402.09,573.57 402.1,571.2 402.43,569.01 402.58,565.94 402.63,563.22 402.56,559.91 402.83,557.6 402.96,554.12 403.12,551.64 403.21,548.26 403.0,546.0 403.42,543.7 403.01,541.07 403.08,537.48 403.33,534.83 403.44,533.07 403.67,530.09 403.55,527.5 403.93,524.66 404.12,522.16 403.9,519.0 403.98,516.17 404.31,514.97 404.24,512.38 404.5,510.0 404.74,507.99 404.15,505.14 404.16,502.19 404.72,500.21 404.5,497.9 404.64,495.27 404.53,492.36 404.61,490.67 404.87,487.32 404.57,484.72 405.07,482.39 405.0,479.9 405.19,477.34 404.89,474.18 404.91,471.39 405.09,467.62 405.71,464.76 405.27,462.51 405.62,459.53 405.55,455.99 405.7,453.0 406.12,450.44 406.24,447.42 406.23,444.81 406.12,442.01 405.97,440.77 406.27,438.0 406.4,435.0 406.34,432.22 406.35,429.93 407.0,427.31 406.77,425.31 407.25,422.38 406.79,419.75 407.2,417.0 407.26,420.47 407.3,422.88 407.59,425.31 407.62,428.56 407.99,431.14 407.7,434.64 407.9,436.8 407.68,439.97 408.2,442.28 408.13,445.25 408.52,447.92 408.51,449.65 408.3,452.49 408.83,456.25 408.6,458.4 408.53,461.22 409.0,463.17 409.05,466.85 409.3,469.2 409.47,466.09 409.62,463.31 409.53,460.69 409.9,458.21 409.85,455.45 409.62,453.05 409.91,449.87 409.68,446.33 409.9,444.0 409.99,441.69 410.18,438.25 409.76,435.71 410.32,432.45 410.26,429.69 410.0,426.76 410.03,424.45 410.53,422.49 410.03,418.81 410.6,415.88 410.2,413.45 410.09,410.43 410.4,408.0 410.37,404.9 410.81,401.78 410.33,399.74 410.54,396.69 410.72,393.67 410.54,389.85 410.89,387.35 410.8,384.68 410.8,381.5 411.22,383.97 411.18,387.64 411.54,389.54 411.85,392.28 412.0,395.4 412.24,397.46 412.33,400.89 412.05,404.12 412.04,405.84 411.95,408.97 412.48,411.85 412.29,414.73 412.4,417.0 412.15,419.43 412.54,423.05 412.55,425.37 412.67,427.65 412.81,430.84 412.41,433.05 412.75,435.69 412.34,439.12 412.6,441.33 412.6,444.0 412.74,447.55 412.39,449.76 412.37,452.85 412.7,456.46 412.84,459.07 412.68,462.05 412.62,465.42 413.0,468.41 412.58,471.17 413.03,473.92 413.15,477.47 412.9,479.9 413.13,483.05 413.13,485.83 412.83,488.29 413.29,490.86 413.06,492.79 413.35,496.55 413.18,498.4 413.4,501.5 413.61,503.63 414.2,506.9 414.77,504.86 415.1,501.5 415.44,504.17 415.49,506.63 415.71,509.84 415.25,513.13 415.47,515.5 415.54,518.6 416.01,521.97 416.1,524.4 416.04,522.46 416.36,519.21 416.9,517.2 416.93,514.22 416.67,511.78 416.53,509.34 416.47,506.65 416.83,503.47 416.23,501.05 416.5,497.9 416.47,495.21 417.05,491.89 417.4,489.8 417.66,492.81 417.79,495.06 417.9,497.9 417.96,500.66 417.81,503.69 418.4,506.24 418.42,508.21 418.49,510.49 418.18,513.21 418.22,516.62 418.3,519.0 418.67,521.19 418.64,523.07 418.91,525.45 419.2,528.0 419.21,530.58 419.66,532.41 419.66,535.04 420.1,537.0 420.11,534.42 420.59,532.78 421.11,530.6 421.0,528.0 421.44,531.16 421.41,533.45 421.08,535.3 421.17,538.79 421.8,541.04 421.61,543.23 421.9,546.0 421.79,548.76 422.5,550.87 421.97,553.26 422.31,556.84 422.76,558.79 422.39,560.88 422.8,564.0 422.78,567.09 423.23,570.09 423.76,572.51 423.7,574.8 424.6,572.1 425.03,574.8 425.5,576.6 426.4,574.8 426.59,576.95 427.3,580.2 428.7,582.0 428.9,584.87 428.82,587.37 428.84,591.15 429.49,594.06 429.5,596.3 429.54,593.84 429.06,591.4 428.6,589.2 429.0,592.54 428.7,594.24 428.94,597.9 429.24,599.95 429.5,603.5 429.96,606.15 429.92,607.36 430.45,610.3 430.4,612.5 430.53,614.35 431.35,617.24 431.7,618.8 432.39,620.35 433.1,621.5 434.4,619.7 434.53,616.94 435.35,614.74 435.4,612.5 435.27,609.93 435.44,606.68 435.82,604.52 436.1,601.99 436.11,598.39 436.3,596.3 436.61,592.69 436.58,590.19 436.87,587.65 436.72,584.58 437.18,581.34 437.2,578.4 437.05,576.05 437.47,571.94 437.32,570.31 437.41,566.55 437.9,564.23 437.89,561.19 437.58,557.36 438.0,555.0 438.42,552.72 437.85,548.97 438.08,547.5 438.15,544.44 438.74,541.69 438.82,538.47 438.37,535.43 438.7,533.4 439.02,530.33 439.31,528.65 438.9,526.27 439.02,523.34 439.4,520.8 439.25,518.57 439.93,516.13 439.44,513.41 439.95,510.74 440.04,507.82 440.24,505.45 440.3,502.4 440.16,504.62 440.64,507.8 440.69,510.24 441.09,513.11 441.31,517.06 441.2,518.94 441.49,521.9 441.49,524.61 441.7,528.0 442.33,529.86 442.3,531.6 442.26,528.51 442.58,527.05 442.72,523.48 442.45,521.24 442.6,519.0 442.92,516.17 442.94,515.0 443.0,512.0 443.3,508.65 442.93,506.13 443.47,504.15 443.46,501.29 443.5,498.84 443.78,496.61 443.95,493.78 443.9,490.7 444.34,488.19 444.35,484.08 444.48,482.24 444.45,479.3 444.43,476.4 444.8,472.8 444.98,470.39 445.08,467.12 445.37,464.45 445.7,462.0 445.72,464.32 446.64,467.02 446.6,469.2 447.08,466.69 447.2,464.13 447.32,460.24 447.14,457.56 447.5,454.8 447.31,451.72 448.07,449.99 447.83,447.08 448.29,444.55 448.46,441.34 448.4,438.6 448.57,440.86 449.3,442.2 449.24,445.21 449.35,447.91 449.84,450.21 449.61,453.72 449.68,456.96 449.66,459.75 449.8,462.0 450.05,465.64 449.75,467.56 450.0,471.52 449.93,473.6 450.53,477.6 450.5,479.9 450.39,482.38 450.86,485.31 451.02,487.97 450.78,489.85 450.74,493.02 450.98,494.99 451.3,497.9 451.69,500.52 451.48,502.96 451.55,505.43 451.4,506.97 451.6,510.0 451.44,512.2 451.78,515.26 451.75,518.63 452.49,521.78 452.3,524.4 452.27,527.48 452.34,529.24 452.56,532.37 452.97,535.12 453.13,537.33 453.1,540.6 453.52,543.08 453.57,545.34 453.68,548.32 453.82,551.82 453.8,553.79 453.8,556.8 453.61,559.07 454.38,561.72 454.36,565.02 454.51,567.15 454.3,569.74 454.7,573.0 455.22,575.72 455.17,578.86 455.05,581.03 455.08,585.01 455.6,587.4 455.51,591.01 455.84,593.65 456.1,596.3 456.8,594.6 456.67,597.5 456.87,599.41 457.18,601.56 457.1,605.01 457.4,607.1 457.42,609.33 457.92,611.51 457.9,614.3 457.99,611.51 458.42,609.31 458.8,607.1 459.04,604.56 459.34,601.47 459.33,600.07 459.17,596.44 459.5,594.6 459.62,591.54 459.79,589.86 459.7,586.5 460.13,584.06 460.3,582.0 460.25,579.04 460.31,575.64 460.62,573.32 461.17,570.56 461.0,567.6 460.85,564.51 461.47,562.29 461.71,560.15 461.85,556.25 462.06,554.13 461.9,551.4 461.85,548.11 462.41,545.34 461.99,542.59 462.71,540.03 462.7,536.66 462.64,534.17 462.8,531.6 462.77,529.31 463.06,526.03 463.68,524.01 463.3,520.84 463.7,519.0 463.86,516.19 463.47,513.3 464.02,510.56 463.71,507.68 464.02,505.06 463.75,502.45 464.36,499.53 464.35,496.17 464.43,493.08 464.2,490.7 464.1,487.92 464.66,484.29 464.26,481.31 464.51,478.55 464.42,476.49 464.78,473.84 464.74,470.56 464.9,467.4 464.66,465.1 464.91,461.52 465.21,459.25 465.29,456.39 465.48,452.38 465.73,449.43 465.95,446.86 465.7,444.0 465.58,441.95 465.72,438.47 465.8,436.14 465.65,433.02 465.81,430.96 465.77,427.95 466.02,425.04 466.3,422.7 466.08,419.34 466.4,417.0 466.21,415.07 466.3,411.35 466.63,409.4 466.96,406.09 466.57,403.68 466.89,401.5 466.9,399.0 466.92,396.57 467.19,393.55 467.48,389.75 467.56,386.97 467.02,384.71 467.15,380.47 467.37,377.88 467.6,375.2 468.01,378.6 467.72,381.01 468.1,384.29 468.05,386.76 467.76,389.27 468.22,392.64 468.2,395.4 468.51,398.48 468.72,400.01 468.2,403.52 468.65,405.03 468.7,408.0 468.88,410.49 468.6,413.47 468.85,416.73 468.57,419.65 469.0,422.1 469.08,425.39 468.66,427.77 469.17,430.92 469.19,433.01 469.45,436.69 468.98,439.02 469.53,441.53 469.19,445.42 469.3,447.6 469.67,444.53 469.64,442.0 469.68,439.87 469.39,436.41 469.54,433.77 469.5,430.89 469.85,428.59 470.0,426.0 469.78,423.54 470.45,420.96 470.11,418.57 470.24,415.26 470.34,412.47 470.55,410.1 470.5,408.0 470.51,411.22 470.89,413.61 470.9,415.9 471.04,418.94 470.79,421.23 470.96,423.09 471.2,426.0 471.5,429.07 471.59,432.38 471.49,434.35 471.16,437.75 471.73,440.31 471.35,442.86 471.5,446.75 471.8,449.4 471.52,451.72 471.76,455.1 472.33,456.83 471.78,460.81 472.44,462.41 472.06,465.63 472.11,468.18 472.3,471.0 472.35,473.65 472.12,476.4 472.26,479.39 472.65,483.23 472.47,486.35 472.86,488.71 472.76,491.49 473.13,495.0 472.9,497.9 472.73,494.54 473.31,491.98 473.47,488.88 473.67,486.8 473.6,483.5 473.42,481.12 473.58,478.79 474.11,476.41 473.81,472.93 474.1,471.0 474.66,473.74 475.0,476.3 475.05,478.27 475.66,480.55 475.9,483.5 476.44,480.44 476.8,478.1 476.77,480.51 477.1,483.45 476.89,485.97 477.16,487.89 477.5,490.7 477.77,493.67 477.93,496.66 477.82,498.54 478.2,501.5 478.58,503.57 478.49,505.92 479.0,508.7 479.26,506.28 479.29,503.58 479.42,499.79 479.15,497.49 479.04,494.45 479.13,490.79 479.5,488.05 479.86,486.19 479.6,482.36 479.7,479.9 479.52,477.0 479.89,473.88 480.11,471.2 480.24,467.7 479.84,465.18 480.21,462.08 480.43,459.12 480.4,456.6 480.41,453.87 480.83,451.58 480.73,448.43 481.26,446.41 481.1,443.1 481.28,445.25 481.27,448.69 481.25,450.55 481.84,454.47 481.34,456.55 481.78,459.02 481.8,462.0 481.6,465.04 482.19,467.29 481.81,469.91 481.92,473.4 481.99,475.14 482.59,477.61 482.22,480.21 482.6,483.5 482.5,486.42 483.11,488.8 482.79,492.51 483.11,494.79 483.3,497.9 482.96,499.96 483.47,502.2 482.89,505.5 483.25,508.15 482.9,510.0 482.98,513.21 483.17,514.85 483.18,518.02 483.46,519.77 483.19,523.5 483.22,525.87 483.6,528.0 483.69,529.9 483.83,532.46 484.54,534.26 484.4,537.0 484.78,539.32 484.43,542.49 484.67,544.28 484.86,547.74 485.3,549.96 484.83,552.8 485.3,555.0 485.44,558.48 485.74,560.61 485.73,564.22 485.39,566.51 485.52,569.42 485.59,572.0 485.55,576.05 485.8,578.4 485.86,581.52 486.32,584.61 486.0,587.76 486.3,590.1 486.67,588.09 486.78,585.06 487.0,581.65 487.05,579.13 487.1,576.6 487.64,573.69 487.73,571.57 488.0,569.4 488.45,566.93 488.69,565.39 488.94,562.14 488.9,560.4 489.28,558.17 489.17,555.47 488.8,553.2 489.22,550.05 489.14,547.94 489.53,545.49 489.4,542.4 489.29,539.48 489.4,536.44 489.54,533.64 489.96,531.22 489.54,528.29 490.09,525.78 489.99,523.36 490.1,520.8 490.31,518.68 489.97,515.47 490.38,512.49 490.38,510.1 489.97,507.54 490.15,503.71 490.1,501.5 490.39,499.56 490.58,496.68 490.8,494.3 491.01,492.43 491.45,489.09 491.6,487.1 491.68,489.61 492.27,492.77 491.86,495.78 492.3,497.9 492.07,495.46 492.45,493.06 492.55,489.61 492.72,488.06 493.0,484.84 492.71,482.81 493.0,479.9 493.44,476.54 493.73,474.66 493.7,471.0 494.0,469.03 494.4,467.4 494.95,465.3 495.2,462.0 495.34,459.02 495.9,456.6 496.01,454.53 496.15,451.87 496.6,449.4 496.78,447.39 496.7,445.54 497.47,442.74 497.3,440.4 497.74,437.56 498.05,435.67 498.0,433.2 498.28,431.02 498.1,428.39 498.1,424.43 498.4,422.96 498.78,420.34 498.61,417.61 498.74,413.8 498.8,411.6 499.12,409.32 499.2,406.34 499.31,403.19 499.7,400.8 499.71,398.18 499.8,394.95 499.54,392.66 500.1,390.6 499.83,387.27 500.09,384.52 500.21,382.9 500.2,379.7 500.9,377.0 500.84,379.62 501.35,382.35 501.5,384.79 501.34,387.47 501.95,388.87 501.8,392.0 502.39,394.34 502.06,396.25 502.83,399.52 502.9,401.7 502.82,399.22 503.35,397.55 503.31,394.8 503.6,392.0 503.48,388.66 503.47,386.04 503.85,382.97 503.58,379.93 503.58,376.98 503.8,374.5 503.76,371.54 503.99,369.32 504.08,366.36 504.13,362.4 504.2,359.9 504.33,356.49 504.09,353.48 504.53,351.82 504.38,348.05 504.46,345.13 504.71,342.27 504.39,340.02 504.7,336.6 505.1,334.11 505.4,333.0 505.73,335.89 505.47,338.32 505.95,340.58 505.7,343.0 505.87,346.08 506.08,349.06 506.0,351.0 505.84,353.5 506.41,356.77 506.31,359.3 506.22,362.36 506.45,364.28 506.5,367.1 506.33,363.77 506.89,361.94 506.34,358.49 506.71,355.94 506.68,353.71 506.73,350.41 507.19,347.77 506.93,344.55 507.0,342.0 507.32,339.45 507.8,336.6 508.04,333.56 507.78,331.04 507.82,329.08 507.98,325.49 507.87,323.55 507.79,320.67 507.73,317.27 508.1,315.0 507.91,312.55 508.09,308.86 508.15,306.03 508.74,303.79 508.7,300.6 509.17,298.71 509.1,296.15 508.95,293.64 509.37,290.09 509.6,288.0 510.04,290.9 510.05,292.23 510.4,295.2 510.84,298.25 510.83,301.27 510.62,302.68 510.86,305.33 511.3,308.7 511.65,305.96 511.43,302.38 511.68,300.08 512.1,297.0 512.4,294.96 512.35,292.27 512.58,288.75 512.8,286.2 512.86,283.43 513.6,282.09 513.5,279.0 513.87,276.3 513.73,274.01 514.07,272.58 514.4,270.0 514.34,268.49 514.9,266.9 515.48,263.55 515.8,261.5 516.06,263.71 516.4,265.1 516.59,262.15 516.95,259.48 516.71,256.31 517.27,254.08 517.1,250.7 517.57,248.54 517.2,245.75 517.54,244.22 517.8,241.7 517.59,239.62 518.28,236.72 517.87,234.62 518.3,231.94 518.5,229.2 518.82,227.12 518.97,225.04 519.3,222.0 519.72,220.03 519.58,216.6 519.51,213.96 519.98,212.12 520.0,209.59 520.24,206.83 520.0,204.0 519.97,201.79 520.03,199.01 520.06,196.79 520.39,193.4 520.8,190.56 520.9,188.93 520.7,186.0 520.53,183.79 520.89,181.43 520.97,178.18 521.29,175.14 521.25,172.59 520.97,170.03 521.2,168.0 521.21,169.42 520.7,171.0 520.93,168.09 521.0,166.07 520.63,163.28 521.14,160.31 521.17,157.83 521.04,156.16 521.2,153.0 521.63,151.18 521.39,148.06 521.78,145.8 521.65,143.43 521.8,140.4 521.96,138.63 522.25,135.07 522.5,133.2 522.91,130.0 523.09,127.17 523.2,125.1 523.8,123.3 524.27,125.83 524.22,127.73 524.27,130.55 524.3,133.2 524.47,136.34 525.0,138.6 524.91,135.87 525.18,133.69 525.7,130.5 526.38,132.1 526.5,135.0 527.2,132.3 527.53,134.51 527.9,136.8 528.4,134.42 528.6,131.4 528.84,134.26 529.3,135.9 530.2,133.2 530.43,134.49 531.1,136.8 531.72,134.02 531.9,132.3 531.91,134.4 532.25,136.03 532.6,138.6 533.08,140.81 533.15,142.75 533.41,144.96 533.3,147.6 533.68,150.16 533.83,152.78 533.69,154.85 533.7,157.2 534.12,159.82 533.77,163.18 534.44,165.55 534.4,168.0 534.67,170.2 534.57,173.59 535.02,176.31 534.56,178.54 534.94,180.72 534.77,182.92 535.1,186.0 535.15,188.82 535.08,191.47 535.35,194.85 535.45,196.84 535.73,199.96 535.85,203.65 535.6,205.8 536.2,204.0 536.3,206.82 536.9,209.4 537.35,212.16 537.18,214.99 536.95,217.76 537.4,221.1 537.24,217.95 537.69,215.49 538.01,212.81 537.7,210.33 537.99,206.91 538.0,204.0 538.35,201.67 538.1,199.0 538.16,196.94 538.22,194.38 538.2,190.46 538.64,188.16 538.7,186.0 538.81,182.89 539.14,181.09 539.13,178.88 539.44,175.96 539.35,172.45 538.98,170.47 539.4,168.0 539.9,165.49 539.8,162.81 539.87,161.81 540.1,159.0 540.43,156.85 540.29,153.38 540.9,151.2 540.91,149.27 541.09,147.0 541.6,144.0 541.67,142.13 542.08,138.95 542.3,136.8 543.0,135.0 543.7,136.8 544.4,139.5 545.2,136.8 545.53,139.5 545.34,141.87 545.43,145.98 544.93,148.49 545.04,150.49 545.1,154.04 545.52,157.35 545.55,159.66 545.31,161.85 545.36,165.24 545.2,168.0 545.28,170.81 545.38,172.0 545.49,174.26 545.9,177.0 546.2,179.82 546.13,181.8 546.6,184.2 547.0,186.08 547.3,187.8 547.34,190.43 547.16,192.32 547.55,195.15 547.88,197.72 548.03,200.3 547.61,203.2 548.0,205.8 548.12,203.32 548.59,200.91 548.72,199.52 548.8,196.8 549.0,199.2 549.56,201.75 549.5,204.0 549.38,205.97 549.41,208.91 549.51,211.92 549.85,214.02 550.01,217.47 549.92,218.95 550.2,222.0 550.24,224.0 550.84,226.79 550.68,228.28 550.9,231.0 550.82,233.44 551.61,237.14 551.6,239.9 551.56,242.78 551.69,245.31 552.08,247.44 552.4,250.7 552.92,248.3 553.1,245.3 553.19,247.54 553.39,250.61 553.46,252.83 553.72,255.4 553.32,258.66 553.6,261.5 553.49,263.84 553.93,268.02 553.78,269.92 554.12,272.78 554.03,276.35 554.2,279.0 554.33,280.77 554.25,283.56 555.07,286.34 554.9,288.0 554.76,285.48 555.17,282.53 555.44,280.43 555.68,277.63 555.6,275.4 556.25,278.54 556.3,280.8 556.35,283.1 556.42,285.88 556.63,289.48 556.62,292.67 556.31,295.1 556.91,297.06 556.64,299.78 556.89,303.51 556.9,306.0 556.86,308.97 556.93,311.7 556.93,314.77 557.11,316.11 556.93,319.82 557.53,322.39 557.1,325.42 557.4,327.6 557.65,329.63 557.52,332.98 557.35,334.67 557.7,338.41 558.25,340.2 558.29,343.43 558.1,345.6 558.5,348.58 558.71,351.52 558.83,354.27 558.45,357.07 558.8,359.9 559.05,362.07 559.24,364.71 559.6,367.1 559.89,369.11 559.91,371.9 560.3,374.3 560.53,376.66 560.86,378.81 561.0,381.41 561.2,384.2 561.51,381.94 561.63,379.12 561.37,377.15 561.67,373.83 561.64,371.31 561.9,368.9 562.19,366.49 562.17,363.5 562.12,360.25 562.36,357.19 562.6,354.6 563.3,352.8 563.4,355.83 563.86,357.74 563.71,361.22 564.1,363.5 564.32,360.91 564.43,358.1 564.29,354.39 564.47,351.51 565.01,349.37 564.8,346.5 564.97,350.14 565.12,352.1 564.85,354.92 565.23,358.79 565.07,361.26 564.97,364.42 565.34,367.98 565.49,370.93 565.3,373.4 565.43,370.81 565.52,369.11 565.6,365.5 566.0,363.5 566.01,361.23 566.57,357.54 566.73,355.47 566.59,351.63 566.8,349.2 567.17,346.32 566.88,344.36 567.28,340.96 567.5,338.4 567.74,335.36 567.51,332.85 567.94,329.62 568.2,327.6 568.17,330.9 568.21,333.72 568.48,335.97 568.12,339.59 568.6,341.99 568.37,345.72 568.93,347.78 568.77,351.2 568.65,353.38 568.71,357.17 568.9,359.9 568.97,362.74 568.64,365.16 568.77,368.27 568.8,371.78 568.63,374.73 568.72,377.38 568.72,379.83 568.81,381.89 569.11,385.8 568.74,388.58 568.89,391.71 568.59,393.69 568.71,396.86 569.09,399.99 568.93,402.18 569.11,404.62 568.9,408.0 568.83,411.2 569.06,414.39 568.91,416.5 569.1,418.7 569.12,421.68 569.5,425.1 569.49,422.16 569.67,419.11 569.89,416.57 570.17,413.24 569.92,410.84 570.0,408.0 569.94,405.68 569.86,402.87 569.99,399.28 570.2,396.77 570.0,393.27 570.5,390.84 569.94,388.41 570.26,385.12 570.14,383.02 570.18,379.59 570.64,376.68 570.28,373.57 570.5,371.45 570.37,368.26 570.25,365.96 570.44,363.19 570.5,359.9 570.43,357.24 570.2,353.52 570.87,351.18 570.69,347.93 570.56,344.52 570.37,342.15 570.75,338.62 570.73,335.46 570.73,332.52 570.67,329.72 570.72,326.48 570.7,324.0 570.71,321.32 570.49,318.05 570.89,315.54 570.87,313.02 570.86,309.4 570.79,307.41 570.89,304.46 570.77,301.19 571.22,298.87 571.02,295.03 571.01,292.08 571.26,290.56 571.13,286.73 571.24,283.76 571.25,281.4 570.7,279.07 571.02,276.15 571.21,272.89 571.1,270.0 571.38,266.76 571.44,264.13 570.86,261.3 570.91,258.11 571.33,255.35 571.04,252.77 571.15,250.82 571.62,247.93 571.71,244.5 571.6,241.46 571.72,239.38 571.62,235.74 571.2,233.89 571.55,230.63 571.79,227.15 571.71,224.77 571.6,222.0 571.85,219.17 571.48,217.1 571.59,214.04 572.02,210.57 571.97,208.01 571.68,204.99 572.24,202.43 571.98,199.85 571.68,197.43 572.23,194.83 572.01,191.13 572.05,189.09 572.2,186.0 572.31,183.84 572.22,181.45 572.2,179.9 572.53,176.87 572.29,174.32 572.11,171.24 572.26,168.37 572.12,164.63 572.54,161.93 572.41,159.07 572.34,155.88 572.23,153.39 572.44,150.45 572.69,147.13 572.7,144.0 573.14,140.78 573.4,138.6 573.71,135.79 573.89,133.96 573.88,131.48 573.84,128.76 574.0,126.0 574.55,123.16 574.19,121.08 574.7,118.8 575.2,117.9 575.41,120.11 575.4,123.81 575.8,126.0 576.07,128.21 576.5,131.4 577.2,128.7 577.04,131.36 577.12,133.77 577.43,136.27 577.47,139.37 577.2,142.05 577.6,144.0 577.45,146.29 577.91,149.97 577.82,152.41 578.05,155.47 578.08,158.3 578.03,161.83 577.96,164.53 577.8,167.69 578.31,169.94 578.27,173.69 578.3,176.3 578.37,178.57 579.0,179.9 579.36,181.84 579.02,184.46 579.13,187.04 579.39,189.84 579.36,192.7 579.51,195.73 579.7,197.9 579.7,200.4 579.96,202.43 579.71,204.85 579.88,207.57 580.24,211.08 580.55,212.85 579.98,216.19 580.4,218.4 580.4,221.94 580.45,224.01 580.29,227.84 580.66,230.06 580.67,233.46 581.01,235.98 580.62,238.82 581.18,241.76 581.09,244.91 581.01,247.87 581.1,250.7 580.95,253.65 581.42,255.85 581.1,259.84 581.56,261.5 581.34,265.23 581.52,267.87 581.06,270.5 581.5,273.97 581.17,276.72 581.52,279.61 581.1,282.18 581.35,285.27 581.5,288.0 581.44,290.18 581.72,293.1 581.85,295.83 581.73,299.23 581.48,301.82 581.5,304.81 581.52,307.21 581.81,309.15 581.88,312.3 582.0,315.0 582.06,316.99 582.26,319.76 582.69,322.4 582.43,324.7 582.6,327.6 582.96,330.29 582.76,333.94 582.61,336.77 582.55,338.8 582.42,342.21 583.03,344.8 582.75,348.52 582.66,350.6 582.86,353.92 583.18,357.52 582.9,359.9 582.72,362.81 582.84,364.91 582.86,368.97 582.76,371.34 583.05,373.44 583.2,376.33 582.76,380.01 582.56,382.36 582.64,385.33 582.56,387.71 582.71,390.44 582.61,393.43 582.91,396.17 583.12,399.4 582.73,401.98 583.14,404.54 582.9,408.0 583.11,410.14 583.29,413.27 583.09,416.61 582.78,418.19 583.24,421.62 583.29,423.89 583.18,426.46 583.18,429.29 583.32,432.02 583.3,435.0 583.19,437.9 583.11,440.82 583.45,442.72 583.23,445.81 583.55,448.81 583.51,451.08 583.92,453.58 584.04,457.15 584.09,459.92 583.8,462.0 583.73,465.42 584.08,467.55 584.45,471.16 584.42,474.01 584.01,477.43 584.4,479.9 584.27,482.13 584.68,484.61 584.67,487.91 584.52,490.41 584.62,492.72 585.1,495.59 585.1,497.9 584.78,500.08 585.42,502.98 585.05,505.57 585.24,508.7 585.21,510.85 585.1,513.6 585.19,516.5 584.96,519.99 585.55,522.63 585.6,525.07 585.3,528.0 585.57,530.56 585.54,534.15 585.72,537.24 585.72,539.37 585.69,542.59 585.39,545.37 585.77,548.95 585.6,551.4 586.11,554.04 585.9,555.72 586.4,558.6 587.3,557.7 587.65,559.4 587.79,561.34 588.2,564.0 588.18,567.0 588.46,569.89 588.76,572.59 589.1,574.8 589.41,571.77 590.0,569.4 589.93,570.97 589.95,573.73 589.66,576.66 590.0,578.4 590.14,575.0 590.77,572.62 590.5,569.63 590.9,567.6 590.92,565.19 591.56,562.21 591.8,559.5 591.85,561.68 592.58,564.27 592.82,567.47 592.7,569.4 592.66,572.59 592.81,575.1 593.59,577.77 593.6,580.2 593.81,578.12 593.72,575.22 593.98,572.5 594.1,570.41 594.5,567.6 594.73,570.87 594.95,573.5 595.34,576.68 595.27,578.88 595.4,582.0 595.81,584.51 595.35,587.14 595.88,590.67 595.95,592.98 596.27,595.83 596.04,598.07 596.37,600.56 596.3,603.5 596.18,600.98 596.82,597.78 596.88,596.0 596.64,592.26 597.05,589.85 597.2,587.4 597.63,591.01 597.39,593.64 597.63,595.68 597.98,598.59 597.47,601.9 597.54,604.85 597.93,608.42 598.1,610.7 598.49,609.39 599.0,607.1 599.9,609.8 600.8,608.0 601.7,610.7 602.6,608.0 603.25,610.37 603.5,612.5 604.4,615.2 604.67,612.68 605.3,610.7 605.47,607.67 605.76,604.95 605.72,602.21 606.37,598.76 606.2,596.3 606.31,592.94 606.37,590.33 606.82,588.75 607.1,585.6 607.69,588.05 608.0,589.2 608.46,592.0 608.51,593.87 608.59,596.89 608.9,599.9 609.43,601.99 609.8,605.3 610.7,603.5 611.6,601.7 611.93,599.16 612.19,596.83 612.5,594.6 612.67,592.67 613.4,590.1 614.06,592.49 614.3,594.6 614.21,597.24 614.92,600.28 615.02,601.46 615.28,604.83 615.2,607.1 615.49,610.39 616.1,612.5 617.0,614.3 617.9,616.1 618.8,617.9 619.7,619.7 620.6,617.0 621.5,619.7 622.4,617.9 623.3,618.8 624.2,619.7 625.1,617.9 626.0,619.7 626.9,617.9 627.8,620.6 628.7,623.0 629.9,622.4 631.0,620.6 632.3,617.9 633.2,615.2 634.1,613.4 635.0,612.5 635.9,614.3 636.8,612.5 637.7,613.4 638.23,611.85 638.12,609.31 638.6,607.1 638.82,604.41 639.38,602.46 639.5,599.9 639.68,597.29 640.4,594.66 640.4,591.9 641.3,591.9 641.89,594.66 642.24,596.57 642.2,599.9 642.47,602.37 642.96,605.36 643.1,607.1 643.64,609.32 644.0,611.6 644.54,609.4 644.9,607.1 645.27,605.03 645.01,601.45 645.84,598.38 645.8,596.3 646.3,593.58 646.5,592.59 646.7,590.1 646.82,587.23 647.11,584.99 647.6,582.0 647.92,584.55 648.08,586.92 648.5,589.2 648.9,592.57 648.98,594.81 648.76,597.99 648.73,601.56 648.69,604.2 649.0,607.1 649.37,610.41 649.01,612.18 649.52,615.81 649.7,617.9 651.2,619.7 653.0,620.1 654.8,621.2 655.46,620.48 656.6,618.8 658.0,617.9 658.16,615.57 658.77,612.49 658.7,610.7 658.7,607.34 658.68,604.67 659.2,602.17 658.92,599.6 659.3,596.3 659.76,593.15 660.2,591.0 660.55,588.88 660.26,586.47 660.8,582.91 660.36,581.23 661.07,577.58 661.16,575.95 661.1,573.0 661.42,570.77 661.89,567.36 662.01,565.49 662.0,562.2 662.17,560.06 662.73,557.89 662.9,555.0 663.0,551.99 662.83,549.66 662.79,547.4 663.37,543.84 663.29,541.74 662.94,539.19 663.44,535.83 663.02,533.09 663.54,530.65 663.4,528.0 663.97,524.82 664.1,522.6 664.17,524.19 664.8,526.2 665.47,527.53 665.6,529.8 665.75,531.95 666.5,533.4 666.66,535.43 667.4,537.0 667.18,538.9 667.66,542.02 667.56,543.68 667.7,546.0 667.51,548.66 667.8,552.16 668.27,555.04 668.28,557.8 668.4,560.4 668.3,562.76 668.58,565.14 669.05,567.56 668.92,570.18 669.2,573.0 669.63,576.07 669.55,578.59 670.04,582.26 669.88,584.61 670.1,587.4 670.53,589.56 670.29,591.84 670.64,595.28 670.58,597.31 671.0,599.9 671.58,602.27 671.38,605.18 671.7,607.1 672.32,604.23 672.4,601.7 672.28,599.39 672.85,597.29 672.93,593.93 672.97,591.4 673.1,589.2 673.24,586.46 673.74,584.37 673.92,581.07 673.8,578.4 674.53,575.19 674.6,573.0 675.24,575.0 675.3,576.6 675.91,574.23 676.0,572.1 676.7,573.9 677.28,575.94 677.41,579.75 677.4,582.0 677.66,584.26 678.1,585.6 678.1,588.63 678.48,590.83 678.49,594.05 678.9,596.3 679.16,598.6 679.43,601.67 679.11,604.82 679.35,608.37 679.4,610.7 679.84,613.36 679.56,615.1 679.47,618.15 679.9,620.6 680.8,618.8 681.7,617.9 682.6,618.8 682.96,616.03 683.54,613.28 683.5,610.7 683.85,612.39 684.4,614.3 685.3,612.5 686.2,615.2 687.1,612.5 687.32,611.31 688.0,608.9 688.51,607.16 688.9,605.3 689.3,603.15 689.8,601.7 690.12,598.99 690.7,596.3 690.96,594.6 691.34,591.16 691.6,589.2 691.59,586.32 692.09,584.8 692.5,582.0 693.22,578.93 693.4,576.6 693.78,574.0 693.79,571.61 693.62,568.43 694.24,566.78 694.3,564.0 694.33,562.02 694.75,558.58 694.34,556.36 694.87,553.33 694.55,551.12 694.66,548.9 695.1,546.0 695.26,542.99 695.2,540.23 695.09,537.45 695.6,535.13 695.6,532.29 695.73,529.93 695.7,526.95 695.7,523.97 696.06,521.94 695.8,519.0 695.86,516.56 695.6,513.49 695.72,511.57 695.61,508.37 696.25,506.21 696.18,502.9 695.88,500.82 696.1,497.9 696.02,495.64 696.11,493.12 696.32,490.63 696.67,487.44 696.73,484.36 696.71,481.81 696.5,479.9 696.6,476.76 696.82,473.67 696.5,471.35 696.8,468.32 696.83,464.33 696.9,462.0 697.12,458.91 696.94,455.9 696.82,454.13 697.2,451.39 697.01,448.83 697.2,445.39 697.13,443.24 697.3,439.98 697.04,437.48 697.2,435.0 696.97,432.09 697.46,429.71 697.12,427.22 697.13,424.55 697.2,420.94 697.33,418.82 697.39,416.64 697.6,413.4 697.97,410.22 697.89,407.91 697.82,404.42 698.15,402.52 697.9,399.0 697.71,396.51 698.07,394.08 698.3,392.81 698.5,390.0 698.07,387.9 698.17,384.17 698.48,381.96 698.1,379.7 698.05,382.08 698.31,385.0 698.33,388.1 698.75,391.29 698.71,394.32 699.0,397.2 699.39,394.91 699.4,392.0 699.35,389.67 699.73,386.25 699.57,383.01 699.4,380.87 699.79,376.85 700.08,375.03 699.52,371.85 699.73,368.7 700.21,365.53 700.04,363.05 700.1,359.9 699.96,357.09 700.2,354.6 700.11,351.23 700.09,347.63 700.22,344.46 700.59,341.51 700.85,338.41 700.81,336.49 700.8,333.0 700.68,330.08 701.27,327.92 701.52,325.21 701.29,323.56 701.5,320.4 701.57,318.17 702.13,314.22 702.07,312.38 701.95,309.37 702.4,306.0 702.72,303.78 702.73,300.3 703.11,297.73 703.11,296.03 702.92,293.4 703.11,290.92 703.3,288.0 703.18,285.91 703.62,283.02 703.88,280.34 704.1,277.2 704.6,274.5 704.59,277.04 704.52,279.43 704.68,282.43 705.1,284.4 705.3,287.0 705.58,290.43 705.64,291.92 705.54,295.52 705.55,297.22 705.85,300.51 705.69,303.74 705.7,306.0 705.64,307.91 706.2,310.82 705.68,313.21 706.45,316.62 706.0,318.36 706.58,321.66 706.4,324.0 706.59,326.06 706.6,329.77 706.44,331.6 706.6,334.98 706.77,337.49 707.41,339.75 707.3,342.0 707.16,344.79 707.66,347.03 707.59,349.58 708.23,351.56 708.2,354.6 708.61,357.17 708.34,359.6 708.62,362.86 708.85,365.88 708.96,368.03 709.1,370.7 709.67,373.0 709.21,375.86 709.64,378.27 710.0,381.5 710.12,383.63 710.65,387.04 710.81,390.12 710.88,392.98 710.9,395.4 710.9,398.24 710.97,400.52 711.39,403.35 711.23,405.26 711.6,408.0 712.18,410.23 712.3,411.6 712.77,413.95 712.38,416.81 712.88,420.58 712.96,423.51 713.0,426.0 713.16,428.79 713.59,431.61 713.56,434.22 713.6,436.8 713.72,434.46 713.9,430.88 713.92,428.59 714.1,426.0 714.23,423.16 714.35,420.0 714.57,417.05 714.8,414.3 715.4,416.43 715.0,420.01 715.6,422.4 715.67,424.85 715.94,427.25 715.84,429.28 716.42,433.09 716.3,435.0 716.22,437.52 716.32,439.52 716.79,443.19 716.4,444.94 716.8,448.27 716.71,450.27 716.8,453.0 716.7,455.99 717.23,458.64 716.79,460.85 717.48,463.59 717.2,465.36 717.01,468.75 717.4,471.0 717.2,474.29 717.72,476.68 717.97,480.19 717.88,481.88 717.9,485.3 718.2,487.59 718.19,490.7 718.6,492.5 718.96,494.37 718.81,497.08 719.2,499.7 719.6,496.75 719.9,494.3 720.21,497.44 720.6,499.7 720.53,502.77 720.8,505.84 721.39,507.73 721.3,510.18 721.32,513.66 721.64,516.02 721.7,519.0 721.62,516.67 722.2,515.4 722.39,517.19 722.36,520.07 722.93,522.17 722.8,524.4 722.8,526.77 722.99,529.3 723.08,530.82 723.5,533.4 723.6,531.09 723.55,527.21 723.66,524.36 723.94,521.73 724.2,519.0 724.73,516.17 724.9,513.6 725.06,516.34 725.45,519.92 725.39,522.83 725.45,525.79 725.8,528.0 726.04,530.95 726.17,533.08 726.22,536.64 726.7,538.8 726.78,536.38 727.02,533.44 727.02,530.25 727.4,528.0 727.45,525.73 727.75,522.26 728.03,520.35 727.74,517.58 728.2,515.4 728.1,518.42 728.44,520.3 728.32,522.82 728.45,525.47 728.9,528.66 728.94,531.37 728.9,533.4 729.18,535.11 728.93,537.43 729.26,540.19 729.6,542.4 730.18,544.32 730.3,546.0 731.2,547.8 731.33,550.32 731.9,553.91 731.63,555.8 732.26,558.98 732.1,562.2 732.49,564.36 732.51,567.4 732.82,570.02 732.42,572.58 733.06,576.37 733.0,578.4 733.25,581.35 733.15,583.48 733.16,587.18 733.28,589.36 733.64,591.46 733.9,594.6 734.16,598.17 734.32,600.06 734.8,603.5 735.7,606.2 736.6,605.3 737.14,603.72 737.5,601.7 737.96,599.45 738.4,598.1 739.3,595.4 740.2,593.7 741.1,594.6" fill="none" stroke="#ec2b2f" stroke-width="1.4" stroke-linejoin="round"/>
<path d="M98.4 435.40H741.4" stroke="#60002a" stroke-width="1.2" fill="none"/>
<path d="M98.7 312.55H741.4" stroke="#c400c4" stroke-width="3.3" stroke-dasharray="1.7 5.4 1.7 5.4 8.8 5.4 8.8 5.4 8.8 5.38" fill="none"/>
<rect x="97.9" y="623.5" width="644.0" height="6.5" fill="#b3b3b3"/>
<path d="M98.50 624.1V645.3 M119.50 624.1V645.3 M139.50 624.1V645.3 M160.50 624.1V645.3 M181.50 624.1V645.3 M202.50 624.1V645.3 M222.50 624.1V645.3 M243.50 624.1V645.3 M264.50 624.1V645.3 M285.50 624.1V645.3 M305.50 624.1V645.3 M326.50 624.1V645.3 M347.50 624.1V645.3 M368.50 624.1V645.3 M388.50 624.1V645.3 M409.50 624.1V645.3 M430.50 624.1V645.3 M451.50 624.1V645.3 M471.50 624.1V645.3 M492.50 624.1V645.3 M513.50 624.1V645.3 M533.50 624.1V645.3 M554.50 624.1V645.3 M575.50 624.1V645.3 M596.50 624.1V645.3 M616.50 624.1V645.3 M637.50 624.1V645.3 M658.50 624.1V645.3 M679.50 624.1V645.3 M699.50 624.1V645.3 M720.50 624.1V645.3 M741.50 624.1V645.3" stroke="#a6a6a6" stroke-width="1" fill="none"/>
<text x="88.6" y="628.80" text-anchor="end" font-family="Liberation Sans, sans-serif" font-size="14.3" fill="#111" textLength="6.7" lengthAdjust="spacingAndGlyphs">0</text>
<text x="88.6" y="611.15" text-anchor="end" font-family="Liberation Sans, sans-serif" font-size="14.3" fill="#111" textLength="13.4" lengthAdjust="spacingAndGlyphs">50</text>
<text x="88.6" y="593.50" text-anchor="end" font-family="Liberation Sans, sans-serif" font-size="14.3" fill="#111" textLength="20.1" lengthAdjust="spacingAndGlyphs">100</text>
<text x="88.6" y="575.85" text-anchor="end" font-family="Liberation Sans, sans-serif" font-size="14.3" fill="#111" textLength="20.1" lengthAdjust="spacingAndGlyphs">150</text>
<text x="88.6" y="558.20" text-anchor="end" font-family="Liberation Sans, sans-serif" font-size="14.3" fill="#111" textLength="20.1" lengthAdjust="spacingAndGlyphs">200</text>
<text x="88.6" y="540.55" text-anchor="end" font-family="Liberation Sans, sans-serif" font-size="14.3" fill="#111" textLength="20.1" lengthAdjust="spacingAndGlyphs">250</text>
<text x="88.6" y="522.90" text-anchor="end" font-family="Liberation Sans, sans-serif" font-size="14.3" fill="#111" textLength="20.1" lengthAdjust="spacingAndGlyphs">300</text>
<text x="88.6" y="505.25" text-anchor="end" font-family="Liberation Sans, sans-serif" font-size="14.3" fill="#111" textLength="20.1" lengthAdjust="spacingAndGlyphs">350</text>
<text x="88.6" y="487.60" text-anchor="end" font-family="Liberation Sans, sans-serif" font-size="14.3" fill="#111" textLength="20.1" lengthAdjust="spacingAndGlyphs">400</text>
<text x="88.6" y="469.95" text-anchor="end" font-family="Liberation Sans, sans-serif" font-size="14.3" fill="#111" textLength="20.1" lengthAdjust="spacingAndGlyphs">450</text>
<text x="88.6" y="452.30" text-anchor="end" font-family="Liberation Sans, sans-serif" font-size="14.3" fill="#111" textLength="20.1" lengthAdjust="spacingAndGlyphs">500</text>
<text x="88.6" y="434.65" text-anchor="end" font-family="Liberation Sans, sans-serif" font-size="14.3" fill="#111" textLength="20.1" lengthAdjust="spacingAndGlyphs">550</text>
<text x="88.6" y="417.00" text-anchor="end" font-family="Liberation Sans, sans-serif" font-size="14.3" fill="#111" textLength="20.1" lengthAdjust="spacingAndGlyphs">600</text>
<text x="88.6" y="399.35" text-anchor="end" font-family="Liberation Sans, sans-serif" font-size="14.3" fill="#111" textLength="20.1" lengthAdjust="spacingAndGlyphs">650</text>
<text x="88.6" y="381.70" text-anchor="end" font-family="Liberation Sans, sans-serif" font-size="14.3" fill="#111" textLength="20.1" lengthAdjust="spacingAndGlyphs">700</text>
<text x="88.6" y="364.05" text-anchor="end" font-family="Liberation Sans, sans-serif" font-size="14.3" fill="#111" textLength="20.1" lengthAdjust="spacingAndGlyphs">750</text>
<text x="88.6" y="346.40" text-anchor="end" font-family="Liberation Sans, sans-serif" font-size="14.3" fill="#111" textLength="20.1" lengthAdjust="spacingAndGlyphs">800</text>
<text x="88.6" y="328.75" text-anchor="end" font-family="Liberation Sans, sans-serif" font-size="14.3" fill="#111" textLength="20.1" lengthAdjust="spacingAndGlyphs">850</text>
<text x="88.6" y="311.10" text-anchor="end" font-family="Liberation Sans, sans-serif" font-size="14.3" fill="#111" textLength="20.1" lengthAdjust="spacingAndGlyphs">900</text>
<text x="88.6" y="293.45" text-anchor="end" font-family="Liberation Sans, sans-serif" font-size="14.3" fill="#111" textLength="20.1" lengthAdjust="spacingAndGlyphs">950</text>
<text x="88.6" y="275.80" text-anchor="end" font-family="Liberation Sans, sans-serif" font-size="14.3" fill="#111" textLength="26.8" lengthAdjust="spacingAndGlyphs">1000</text>
<text x="88.6" y="258.15" text-anchor="end" font-family="Liberation Sans, sans-serif" font-size="14.3" fill="#111" textLength="26.8" lengthAdjust="spacingAndGlyphs">1050</text>
<text x="88.6" y="240.50" text-anchor="end" font-family="Liberation Sans, sans-serif" font-size="14.3" fill="#111" textLength="26.8" lengthAdjust="spacingAndGlyphs">1100</text>
<text x="88.6" y="222.85" text-anchor="end" font-family="Liberation Sans, sans-serif" font-size="14.3" fill="#111" textLength="26.8" lengthAdjust="spacingAndGlyphs">1150</text>
<text x="88.6" y="205.20" text-anchor="end" font-family="Liberation Sans, sans-serif" font-size="14.3" fill="#111" textLength="26.8" lengthAdjust="spacingAndGlyphs">1200</text>
<text x="88.6" y="187.55" text-anchor="end" font-family="Liberation Sans, sans-serif" font-size="14.3" fill="#111" textLength="26.8" lengthAdjust="spacingAndGlyphs">1250</text>
<text x="88.6" y="169.90" text-anchor="end" font-family="Liberation Sans, sans-serif" font-size="14.3" fill="#111" textLength="26.8" lengthAdjust="spacingAndGlyphs">1300</text>
<text x="88.6" y="152.25" text-anchor="end" font-family="Liberation Sans, sans-serif" font-size="14.3" fill="#111" textLength="26.8" lengthAdjust="spacingAndGlyphs">1350</text>
<text x="88.6" y="134.60" text-anchor="end" font-family="Liberation Sans, sans-serif" font-size="14.3" fill="#111" textLength="26.8" lengthAdjust="spacingAndGlyphs">1400</text>
<text x="88.6" y="116.95" text-anchor="end" font-family="Liberation Sans, sans-serif" font-size="14.3" fill="#111" textLength="26.8" lengthAdjust="spacingAndGlyphs">1450</text>
<text x="88.6" y="99.30" text-anchor="end" font-family="Liberation Sans, sans-serif" font-size="14.3" fill="#111" textLength="26.8" lengthAdjust="spacingAndGlyphs">1500</text>
<text x="100.10" y="644.8" font-family="Liberation Sans, sans-serif" font-size="14.3" fill="#111" textLength="16.6" lengthAdjust="spacingAndGlyphs">01.</text>
<text x="120.84" y="644.8" font-family="Liberation Sans, sans-serif" font-size="14.3" fill="#111" textLength="16.6" lengthAdjust="spacingAndGlyphs">02.</text>
<text x="141.58" y="644.8" font-family="Liberation Sans, sans-serif" font-size="14.3" fill="#111" textLength="16.6" lengthAdjust="spacingAndGlyphs">03.</text>
<text x="162.33" y="644.8" font-family="Liberation Sans, sans-serif" font-size="14.3" fill="#111" textLength="16.6" lengthAdjust="spacingAndGlyphs">04.</text>
<text x="183.07" y="644.8" font-family="Liberation Sans, sans-serif" font-size="14.3" fill="#111" textLength="16.6" lengthAdjust="spacingAndGlyphs">05.</text>
<text x="203.81" y="644.8" font-family="Liberation Sans, sans-serif" font-size="14.3" fill="#111" textLength="16.6" lengthAdjust="spacingAndGlyphs">06.</text>
<text x="224.55" y="644.8" font-family="Liberation Sans, sans-serif" font-size="14.3" fill="#111" textLength="16.6" lengthAdjust="spacingAndGlyphs">07.</text>
<text x="245.29" y="644.8" font-family="Liberation Sans, sans-serif" font-size="14.3" fill="#111" textLength="16.6" lengthAdjust="spacingAndGlyphs">08.</text>
<text x="266.04" y="644.8" font-family="Liberation Sans, sans-serif" font-size="14.3" fill="#111" textLength="16.6" lengthAdjust="spacingAndGlyphs">09.</text>
<text x="286.78" y="644.8" font-family="Liberation Sans, sans-serif" font-size="14.3" fill="#111" textLength="16.6" lengthAdjust="spacingAndGlyphs">10.</text>
<text x="307.52" y="644.8" font-family="Liberation Sans, sans-serif" font-size="14.3" fill="#111" textLength="16.6" lengthAdjust="spacingAndGlyphs">11.</text>
<text x="328.26" y="644.8" font-family="Liberation Sans, sans-serif" font-size="14.3" fill="#111" textLength="16.6" lengthAdjust="spacingAndGlyphs">12.</text>
<text x="349.00" y="644.8" font-family="Liberation Sans, sans-serif" font-size="14.3" fill="#111" textLength="16.6" lengthAdjust="spacingAndGlyphs">13.</text>
<text x="369.75" y="644.8" font-family="Liberation Sans, sans-serif" font-size="14.3" fill="#111" textLength="16.6" lengthAdjust="spacingAndGlyphs">14.</text>
<text x="390.49" y="644.8" font-family="Liberation Sans, sans-serif" font-size="14.3" fill="#111" textLength="16.6" lengthAdjust="spacingAndGlyphs">15.</text>
<text x="411.23" y="644.8" font-family="Liberation Sans, sans-serif" font-size="14.3" fill="#111" textLength="16.6" lengthAdjust="spacingAndGlyphs">16.</text>
<text x="431.97" y="644.8" font-family="Liberation Sans, sans-serif" font-size="14.3" fill="#111" textLength="16.6" lengthAdjust="spacingAndGlyphs">17.</text>
<text x="452.71" y="644.8" font-family="Liberation Sans, sans-serif" font-size="14.3" fill="#111" textLength="16.6" lengthAdjust="spacingAndGlyphs">18.</text>
<text x="473.45" y="644.8" font-family="Liberation Sans, sans-serif" font-size="14.3" fill="#111" textLength="16.6" lengthAdjust="spacingAndGlyphs">19.</text>
<text x="494.20" y="644.8" font-family="Liberation Sans, sans-serif" font-size="14.3" fill="#111" textLength="16.6" lengthAdjust="spacingAndGlyphs">20.</text>
<text x="514.94" y="644.8" font-family="Liberation Sans, sans-serif" font-size="14.3" fill="#111" textLength="16.6" lengthAdjust="spacingAndGlyphs">21.</text>
<text x="535.68" y="644.8" font-family="Liberation Sans, sans-serif" font-size="14.3" fill="#111" textLength="16.6" lengthAdjust="spacingAndGlyphs">22.</text>
<text x="556.42" y="644.8" font-family="Liberation Sans, sans-serif" font-size="14.3" fill="#111" textLength="16.6" lengthAdjust="spacingAndGlyphs">23.</text>
<text x="577.16" y="644.8" font-family="Liberation Sans, sans-serif" font-size="14.3" fill="#111" textLength="16.6" lengthAdjust="spacingAndGlyphs">24.</text>
<text x="597.91" y="644.8" font-family="Liberation Sans, sans-serif" font-size="14.3" fill="#111" textLength="16.6" lengthAdjust="spacingAndGlyphs">25.</text>
<text x="618.65" y="644.8" font-family="Liberation Sans, sans-serif" font-size="14.3" fill="#111" textLength="16.6" lengthAdjust="spacingAndGlyphs">26.</text>
<text x="639.39" y="644.8" font-family="Liberation Sans, sans-serif" font-size="14.3" fill="#111" textLength="16.6" lengthAdjust="spacingAndGlyphs">27.</text>
<text x="660.13" y="644.8" font-family="Liberation Sans, sans-serif" font-size="14.3" fill="#111" textLength="16.6" lengthAdjust="spacingAndGlyphs">28.</text>
<text x="680.87" y="644.8" font-family="Liberation Sans, sans-serif" font-size="14.3" fill="#111" textLength="16.6" lengthAdjust="spacingAndGlyphs">29.</text>
<text x="701.62" y="644.8" font-family="Liberation Sans, sans-serif" font-size="14.3" fill="#111" textLength="16.6" lengthAdjust="spacingAndGlyphs">30.</text>
<text x="722.36" y="644.8" font-family="Liberation Sans, sans-serif" font-size="14.3" fill="#111" textLength="16.6" lengthAdjust="spacingAndGlyphs">31.</text>
<text x="401" y="672.5" text-anchor="middle" font-family="Liberation Sans, sans-serif" font-size="14.2" fill="#111" textLength="21.3" lengthAdjust="spacingAndGlyphs">Tag</text>
<text transform="translate(35.1 366) rotate(-90)" text-anchor="middle" font-family="Liberation Sans, sans-serif" font-size="14.2" fill="#111" textLength="90.2" lengthAdjust="spacingAndGlyphs">Leistung in MW</text>
<path d="M770.3 181.5H830.5" stroke="#1862b8" stroke-width="2" fill="none"/>
<text x="834.4" y="186.25" font-family="Liberation Sans, sans-serif" font-size="14.2" fill="#111" textLength="98.3" lengthAdjust="spacingAndGlyphs">Häufigkt. d. Leis-</text>
<text x="834.4" y="201.15" font-family="Liberation Sans, sans-serif" font-size="14.2" fill="#111" textLength="59.5" lengthAdjust="spacingAndGlyphs">tung (MW)</text>
<path d="M770.3 230.1H830.5" stroke="#1e7d55" stroke-width="1" fill="none"/>
<text x="834.4" y="233.95" font-family="Liberation Sans, sans-serif" font-size="14.2" fill="#111" textLength="55.6" lengthAdjust="spacingAndGlyphs">24:00 Uhr</text>
<path d="M770.3 263.3H830.5" stroke="#006633" stroke-width="4" fill="none"/>
<text x="834.4" y="267.05" font-family="Liberation Sans, sans-serif" font-size="14.2" fill="#111" textLength="91.9" lengthAdjust="spacingAndGlyphs">Inst. Leistung in</text>
<text x="834.4" y="282.15" font-family="Liberation Sans, sans-serif" font-size="14.2" fill="#111" textLength="88.3" lengthAdjust="spacingAndGlyphs">BW 2018: 1416</text>
<text x="834.4" y="296.85" font-family="Liberation Sans, sans-serif" font-size="14.2" fill="#111" textLength="23" lengthAdjust="spacingAndGlyphs">MW</text>
<path d="M770.3 326.2H830.5" stroke="#d044d8" stroke-width="1" fill="none"/>
<text x="834.4" y="330.65" font-family="Liberation Sans, sans-serif" font-size="14.2" fill="#111" textLength="90.3" lengthAdjust="spacingAndGlyphs">Medianwert 408</text>
<text x="834.4" y="345.75" font-family="Liberation Sans, sans-serif" font-size="14.2" fill="#111" textLength="23" lengthAdjust="spacingAndGlyphs">MW</text>
<path d="M770.3 374.4H830.5" stroke="#ee2a2e" stroke-width="1" fill="none"/>
<text x="834.4" y="378.85" font-family="Liberation Sans, sans-serif" font-size="14.2" fill="#111" textLength="101.8" lengthAdjust="spacingAndGlyphs">Ist-Leistung (MW)</text>
<path d="M770.3 408.4H830.5" stroke="#60002a" stroke-width="1.2" fill="none"/>
<text x="834.4" y="412.05" font-family="Liberation Sans, sans-serif" font-size="14.2" fill="#111" textLength="101.2" lengthAdjust="spacingAndGlyphs">Mittelwert d. Leis-</text>
<text x="834.4" y="427.05" font-family="Liberation Sans, sans-serif" font-size="14.2" fill="#111" textLength="76.5" lengthAdjust="spacingAndGlyphs">tung 534 MW</text>
<path d="M770.3 456.2H830.5" stroke="#c400c4" stroke-width="3.2" stroke-dasharray="2 4.6 2 5 9 6 9 6 9 5 2 5" fill="none"/>
<text x="834.4" y="459.85" font-family="Liberation Sans, sans-serif" font-size="14.2" fill="#111" textLength="83" lengthAdjust="spacingAndGlyphs">Unterschied v.</text>
<text x="834.4" y="475.15" font-family="Liberation Sans, sans-serif" font-size="14.2" fill="#111" textLength="99.3" lengthAdjust="spacingAndGlyphs">mittl. Leistung zu</text>
<text x="834.4" y="489.95" font-family="Liberation Sans, sans-serif" font-size="14.2" fill="#111" textLength="106.2" lengthAdjust="spacingAndGlyphs">inst. Leistung: 882</text>
<text x="834.4" y="504.85" font-family="Liberation Sans, sans-serif" font-size="14.2" fill="#111" textLength="23" lengthAdjust="spacingAndGlyphs">MW</text>
<g id="logo">
<polygon points="871.75,632.45 868.44,632.78 865.13,633.11 861.83,634.10 857.86,634.76 854.55,634.10 853.23,632.12 852.24,629.47 852.57,626.83 853.23,624.18 854.22,621.53 855.21,619.55 856.20,616.90 857.53,614.92 859.18,614.92 860.50,616.24 862.16,618.56 863.81,620.87 865.46,623.19 866.46,624.18 865.46,620.87 864.47,616.90 863.94,613.60 864.47,611.61 866.46,610.95 869.76,611.08 873.07,611.61 875.71,612.61 878.36,613.60 880.34,614.92 881.80,616.57 881.53,618.89 880.34,621.53 878.36,624.18 876.38,626.16 874.39,628.81 872.74,631.12" fill="#96c832" stroke="#96c832" stroke-width="0.6" stroke-linejoin="round"/>
<polyline points="871.61,632.12 873.07,636.08 874.39,639.39 876.04,642.70 877.17,644.81" fill="none" stroke="#96c832" stroke-width="1.2" stroke-linecap="round"/>
<text x="814.3" y="652.6" font-family="Liberation Serif, serif" font-size="20.5" fill="#808080" textLength="111.8" lengthAdjust="spacingAndGlyphs"><tspan font-weight="bold" font-size="19">M</tspan>ensch<tspan font-weight="bold" font-size="19">N</tspan>atur</text>
<text x="798.2" y="669.0" font-family="Liberation Sans, sans-serif" font-size="12.8" fill="#111" textLength="138.6" lengthAdjust="spacingAndGlyphs">www. mensch-natur-bw.de</text>
</g>
</svg>
</body></html>
